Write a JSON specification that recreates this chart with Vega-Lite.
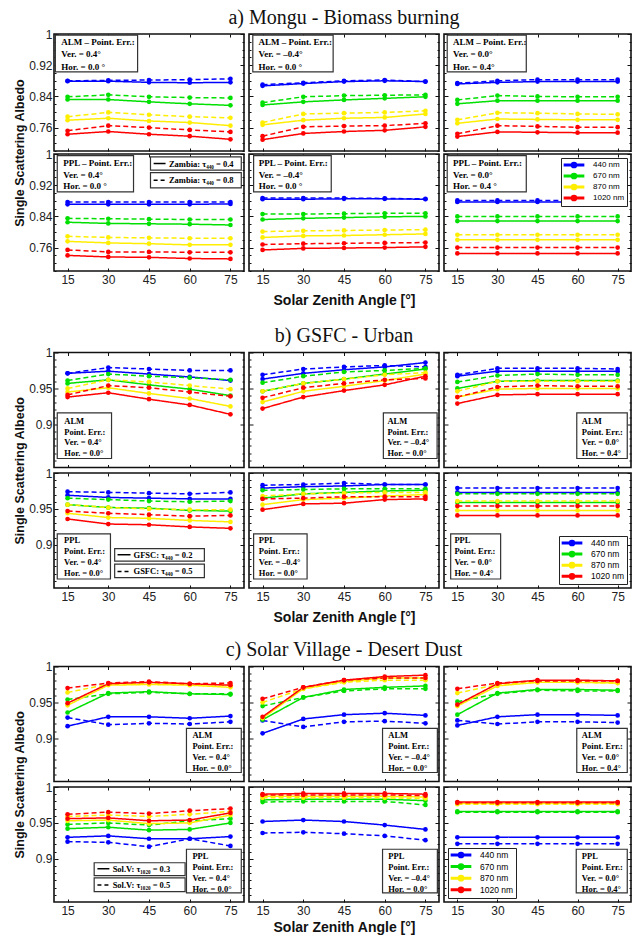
{
"$schema":"https://vega.github.io/schema/vega-lite/v6.json",
"background":"white",
"padding":{"left":12,"top":6,"right":0,"bottom":0},
"config":{
 "view":{"stroke":"#111","strokeWidth":1.6},
 "axis":{"domain":false,"grid":false,"tickColor":"#111","tickWidth":1,"tickSize":-3,"labelFont":"Liberation Sans","labelFontSize":12,"labelColor":"#222","labelPadding":6,"titleFont":"Liberation Sans","titleFontWeight":"bold","titleColor":"#111"},
 "title":{"font":"Liberation Serif","fontSize":20,"fontWeight":"normal","color":"#111","offset":6},
 "line":{"strokeWidth":1.5},
 "point":{"filled":true,"size":22,"opacity":1}
},
"datasets":{"ssa":[
{"panel":"aAL","wl":"440 nm","tau":"low","sza":15,"ssa":0.879},{"panel":"aAL","wl":"440 nm","tau":"low","sza":30,"ssa":0.879},{"panel":"aAL","wl":"440 nm","tau":"low","sza":45,"ssa":0.876},{"panel":"aAL","wl":"440 nm","tau":"low","sza":60,"ssa":0.875},{"panel":"aAL","wl":"440 nm","tau":"low","sza":75,"ssa":0.876},
{"panel":"aAL","wl":"440 nm","tau":"high","sza":15,"ssa":0.880},{"panel":"aAL","wl":"440 nm","tau":"high","sza":30,"ssa":0.881},{"panel":"aAL","wl":"440 nm","tau":"high","sza":45,"ssa":0.882},{"panel":"aAL","wl":"440 nm","tau":"high","sza":60,"ssa":0.883},{"panel":"aAL","wl":"440 nm","tau":"high","sza":75,"ssa":0.885},
{"panel":"aAL","wl":"670 nm","tau":"low","sza":15,"ssa":0.832},{"panel":"aAL","wl":"670 nm","tau":"low","sza":30,"ssa":0.832},{"panel":"aAL","wl":"670 nm","tau":"low","sza":45,"ssa":0.826},{"panel":"aAL","wl":"670 nm","tau":"low","sza":60,"ssa":0.821},{"panel":"aAL","wl":"670 nm","tau":"low","sza":75,"ssa":0.817},
{"panel":"aAL","wl":"670 nm","tau":"high","sza":15,"ssa":0.839},{"panel":"aAL","wl":"670 nm","tau":"high","sza":30,"ssa":0.844},{"panel":"aAL","wl":"670 nm","tau":"high","sza":45,"ssa":0.839},{"panel":"aAL","wl":"670 nm","tau":"high","sza":60,"ssa":0.837},{"panel":"aAL","wl":"670 nm","tau":"high","sza":75,"ssa":0.836},
{"panel":"aAL","wl":"870 nm","tau":"low","sza":15,"ssa":0.779},{"panel":"aAL","wl":"870 nm","tau":"low","sza":30,"ssa":0.784},{"panel":"aAL","wl":"870 nm","tau":"low","sza":45,"ssa":0.777},{"panel":"aAL","wl":"870 nm","tau":"low","sza":60,"ssa":0.773},{"panel":"aAL","wl":"870 nm","tau":"low","sza":75,"ssa":0.765},
{"panel":"aAL","wl":"870 nm","tau":"high","sza":15,"ssa":0.788},{"panel":"aAL","wl":"870 nm","tau":"high","sza":30,"ssa":0.799},{"panel":"aAL","wl":"870 nm","tau":"high","sza":45,"ssa":0.793},{"panel":"aAL","wl":"870 nm","tau":"high","sza":60,"ssa":0.788},{"panel":"aAL","wl":"870 nm","tau":"high","sza":75,"ssa":0.785},
{"panel":"aAL","wl":"1020 nm","tau":"low","sza":15,"ssa":0.743},{"panel":"aAL","wl":"1020 nm","tau":"low","sza":30,"ssa":0.750},{"panel":"aAL","wl":"1020 nm","tau":"low","sza":45,"ssa":0.743},{"panel":"aAL","wl":"1020 nm","tau":"low","sza":60,"ssa":0.738},{"panel":"aAL","wl":"1020 nm","tau":"low","sza":75,"ssa":0.730},
{"panel":"aAL","wl":"1020 nm","tau":"high","sza":15,"ssa":0.752},{"panel":"aAL","wl":"1020 nm","tau":"high","sza":30,"ssa":0.765},{"panel":"aAL","wl":"1020 nm","tau":"high","sza":45,"ssa":0.760},{"panel":"aAL","wl":"1020 nm","tau":"high","sza":60,"ssa":0.754},{"panel":"aAL","wl":"1020 nm","tau":"high","sza":75,"ssa":0.749},

{"panel":"aAM","wl":"440 nm","tau":"low","sza":15,"ssa":0.867},{"panel":"aAM","wl":"440 nm","tau":"low","sza":30,"ssa":0.873},{"panel":"aAM","wl":"440 nm","tau":"low","sza":45,"ssa":0.878},{"panel":"aAM","wl":"440 nm","tau":"low","sza":60,"ssa":0.880},{"panel":"aAM","wl":"440 nm","tau":"low","sza":75,"ssa":0.878},
{"panel":"aAM","wl":"440 nm","tau":"high","sza":15,"ssa":0.870},{"panel":"aAM","wl":"440 nm","tau":"high","sza":30,"ssa":0.875},{"panel":"aAM","wl":"440 nm","tau":"high","sza":45,"ssa":0.880},{"panel":"aAM","wl":"440 nm","tau":"high","sza":60,"ssa":0.882},{"panel":"aAM","wl":"440 nm","tau":"high","sza":75,"ssa":0.878},
{"panel":"aAM","wl":"670 nm","tau":"low","sza":15,"ssa":0.818},{"panel":"aAM","wl":"670 nm","tau":"low","sza":30,"ssa":0.826},{"panel":"aAM","wl":"670 nm","tau":"low","sza":45,"ssa":0.831},{"panel":"aAM","wl":"670 nm","tau":"low","sza":60,"ssa":0.835},{"panel":"aAM","wl":"670 nm","tau":"low","sza":75,"ssa":0.839},
{"panel":"aAM","wl":"670 nm","tau":"high","sza":15,"ssa":0.824},{"panel":"aAM","wl":"670 nm","tau":"high","sza":30,"ssa":0.839},{"panel":"aAM","wl":"670 nm","tau":"high","sza":45,"ssa":0.842},{"panel":"aAM","wl":"670 nm","tau":"high","sza":60,"ssa":0.843},{"panel":"aAM","wl":"670 nm","tau":"high","sza":75,"ssa":0.844},
{"panel":"aAM","wl":"870 nm","tau":"low","sza":15,"ssa":0.767},{"panel":"aAM","wl":"870 nm","tau":"low","sza":30,"ssa":0.779},{"panel":"aAM","wl":"870 nm","tau":"low","sza":45,"ssa":0.784},{"panel":"aAM","wl":"870 nm","tau":"low","sza":60,"ssa":0.786},{"panel":"aAM","wl":"870 nm","tau":"low","sza":75,"ssa":0.795},
{"panel":"aAM","wl":"870 nm","tau":"high","sza":15,"ssa":0.773},{"panel":"aAM","wl":"870 nm","tau":"high","sza":30,"ssa":0.795},{"panel":"aAM","wl":"870 nm","tau":"high","sza":45,"ssa":0.797},{"panel":"aAM","wl":"870 nm","tau":"high","sza":60,"ssa":0.799},{"panel":"aAM","wl":"870 nm","tau":"high","sza":75,"ssa":0.803},
{"panel":"aAM","wl":"1020 nm","tau":"low","sza":15,"ssa":0.729},{"panel":"aAM","wl":"1020 nm","tau":"low","sza":30,"ssa":0.745},{"panel":"aAM","wl":"1020 nm","tau":"low","sza":45,"ssa":0.750},{"panel":"aAM","wl":"1020 nm","tau":"low","sza":60,"ssa":0.753},{"panel":"aAM","wl":"1020 nm","tau":"low","sza":75,"ssa":0.762},
{"panel":"aAM","wl":"1020 nm","tau":"high","sza":15,"ssa":0.738},{"panel":"aAM","wl":"1020 nm","tau":"high","sza":30,"ssa":0.762},{"panel":"aAM","wl":"1020 nm","tau":"high","sza":45,"ssa":0.764},{"panel":"aAM","wl":"1020 nm","tau":"high","sza":60,"ssa":0.765},{"panel":"aAM","wl":"1020 nm","tau":"high","sza":75,"ssa":0.771},

{"panel":"aAR","wl":"440 nm","tau":"low","sza":15,"ssa":0.872},{"panel":"aAR","wl":"440 nm","tau":"low","sza":30,"ssa":0.876},{"panel":"aAR","wl":"440 nm","tau":"low","sza":45,"ssa":0.878},{"panel":"aAR","wl":"440 nm","tau":"low","sza":60,"ssa":0.878},{"panel":"aAR","wl":"440 nm","tau":"low","sza":75,"ssa":0.878},
{"panel":"aAR","wl":"440 nm","tau":"high","sza":15,"ssa":0.874},{"panel":"aAR","wl":"440 nm","tau":"high","sza":30,"ssa":0.880},{"panel":"aAR","wl":"440 nm","tau":"high","sza":45,"ssa":0.883},{"panel":"aAR","wl":"440 nm","tau":"high","sza":60,"ssa":0.883},{"panel":"aAR","wl":"440 nm","tau":"high","sza":75,"ssa":0.883},
{"panel":"aAR","wl":"670 nm","tau":"low","sza":15,"ssa":0.821},{"panel":"aAR","wl":"670 nm","tau":"low","sza":30,"ssa":0.829},{"panel":"aAR","wl":"670 nm","tau":"low","sza":45,"ssa":0.829},{"panel":"aAR","wl":"670 nm","tau":"low","sza":60,"ssa":0.829},{"panel":"aAR","wl":"670 nm","tau":"low","sza":75,"ssa":0.829},
{"panel":"aAR","wl":"670 nm","tau":"high","sza":15,"ssa":0.831},{"panel":"aAR","wl":"670 nm","tau":"high","sza":30,"ssa":0.842},{"panel":"aAR","wl":"670 nm","tau":"high","sza":45,"ssa":0.840},{"panel":"aAR","wl":"670 nm","tau":"high","sza":60,"ssa":0.839},{"panel":"aAR","wl":"670 nm","tau":"high","sza":75,"ssa":0.839},
{"panel":"aAR","wl":"870 nm","tau":"low","sza":15,"ssa":0.771},{"panel":"aAR","wl":"870 nm","tau":"low","sza":30,"ssa":0.782},{"panel":"aAR","wl":"870 nm","tau":"low","sza":45,"ssa":0.781},{"panel":"aAR","wl":"870 nm","tau":"low","sza":60,"ssa":0.780},{"panel":"aAR","wl":"870 nm","tau":"low","sza":75,"ssa":0.780},
{"panel":"aAR","wl":"870 nm","tau":"high","sza":15,"ssa":0.780},{"panel":"aAR","wl":"870 nm","tau":"high","sza":30,"ssa":0.798},{"panel":"aAR","wl":"870 nm","tau":"high","sza":45,"ssa":0.797},{"panel":"aAR","wl":"870 nm","tau":"high","sza":60,"ssa":0.795},{"panel":"aAR","wl":"870 nm","tau":"high","sza":75,"ssa":0.794},
{"panel":"aAR","wl":"1020 nm","tau":"low","sza":15,"ssa":0.737},{"panel":"aAR","wl":"1020 nm","tau":"low","sza":30,"ssa":0.749},{"panel":"aAR","wl":"1020 nm","tau":"low","sza":45,"ssa":0.748},{"panel":"aAR","wl":"1020 nm","tau":"low","sza":60,"ssa":0.747},{"panel":"aAR","wl":"1020 nm","tau":"low","sza":75,"ssa":0.747},
{"panel":"aAR","wl":"1020 nm","tau":"high","sza":15,"ssa":0.744},{"panel":"aAR","wl":"1020 nm","tau":"high","sza":30,"ssa":0.765},{"panel":"aAR","wl":"1020 nm","tau":"high","sza":45,"ssa":0.763},{"panel":"aAR","wl":"1020 nm","tau":"high","sza":60,"ssa":0.761},{"panel":"aAR","wl":"1020 nm","tau":"high","sza":75,"ssa":0.761},

{"panel":"aPL","wl":"440 nm","tau":"low","sza":15,"ssa":0.871},{"panel":"aPL","wl":"440 nm","tau":"low","sza":30,"ssa":0.871},{"panel":"aPL","wl":"440 nm","tau":"low","sza":45,"ssa":0.871},{"panel":"aPL","wl":"440 nm","tau":"low","sza":60,"ssa":0.871},{"panel":"aPL","wl":"440 nm","tau":"low","sza":75,"ssa":0.872},
{"panel":"aPL","wl":"440 nm","tau":"high","sza":15,"ssa":0.877},{"panel":"aPL","wl":"440 nm","tau":"high","sza":30,"ssa":0.877},{"panel":"aPL","wl":"440 nm","tau":"high","sza":45,"ssa":0.877},{"panel":"aPL","wl":"440 nm","tau":"high","sza":60,"ssa":0.877},{"panel":"aPL","wl":"440 nm","tau":"high","sza":75,"ssa":0.877},
{"panel":"aPL","wl":"670 nm","tau":"low","sza":15,"ssa":0.825},{"panel":"aPL","wl":"670 nm","tau":"low","sza":30,"ssa":0.822},{"panel":"aPL","wl":"670 nm","tau":"low","sza":45,"ssa":0.821},{"panel":"aPL","wl":"670 nm","tau":"low","sza":60,"ssa":0.820},{"panel":"aPL","wl":"670 nm","tau":"low","sza":75,"ssa":0.818},
{"panel":"aPL","wl":"670 nm","tau":"high","sza":15,"ssa":0.835},{"panel":"aPL","wl":"670 nm","tau":"high","sza":30,"ssa":0.834},{"panel":"aPL","wl":"670 nm","tau":"high","sza":45,"ssa":0.833},{"panel":"aPL","wl":"670 nm","tau":"high","sza":60,"ssa":0.832},{"panel":"aPL","wl":"670 nm","tau":"high","sza":75,"ssa":0.832},
{"panel":"aPL","wl":"870 nm","tau":"low","sza":15,"ssa":0.776},{"panel":"aPL","wl":"870 nm","tau":"low","sza":30,"ssa":0.772},{"panel":"aPL","wl":"870 nm","tau":"low","sza":45,"ssa":0.770},{"panel":"aPL","wl":"870 nm","tau":"low","sza":60,"ssa":0.767},{"panel":"aPL","wl":"870 nm","tau":"low","sza":75,"ssa":0.767},
{"panel":"aPL","wl":"870 nm","tau":"high","sza":15,"ssa":0.789},{"panel":"aPL","wl":"870 nm","tau":"high","sza":30,"ssa":0.786},{"panel":"aPL","wl":"870 nm","tau":"high","sza":45,"ssa":0.785},{"panel":"aPL","wl":"870 nm","tau":"high","sza":60,"ssa":0.784},{"panel":"aPL","wl":"870 nm","tau":"high","sza":75,"ssa":0.784},
{"panel":"aPL","wl":"1020 nm","tau":"low","sza":15,"ssa":0.740},{"panel":"aPL","wl":"1020 nm","tau":"low","sza":30,"ssa":0.736},{"panel":"aPL","wl":"1020 nm","tau":"low","sza":45,"ssa":0.735},{"panel":"aPL","wl":"1020 nm","tau":"low","sza":60,"ssa":0.732},{"panel":"aPL","wl":"1020 nm","tau":"low","sza":75,"ssa":0.731},
{"panel":"aPL","wl":"1020 nm","tau":"high","sza":15,"ssa":0.754},{"panel":"aPL","wl":"1020 nm","tau":"high","sza":30,"ssa":0.749},{"panel":"aPL","wl":"1020 nm","tau":"high","sza":45,"ssa":0.749},{"panel":"aPL","wl":"1020 nm","tau":"high","sza":60,"ssa":0.748},{"panel":"aPL","wl":"1020 nm","tau":"high","sza":75,"ssa":0.748},

{"panel":"aPM","wl":"440 nm","tau":"low","sza":15,"ssa":0.884},{"panel":"aPM","wl":"440 nm","tau":"low","sza":30,"ssa":0.884},{"panel":"aPM","wl":"440 nm","tau":"low","sza":45,"ssa":0.885},{"panel":"aPM","wl":"440 nm","tau":"low","sza":60,"ssa":0.885},{"panel":"aPM","wl":"440 nm","tau":"low","sza":75,"ssa":0.884},
{"panel":"aPM","wl":"440 nm","tau":"high","sza":15,"ssa":0.887},{"panel":"aPM","wl":"440 nm","tau":"high","sza":30,"ssa":0.887},{"panel":"aPM","wl":"440 nm","tau":"high","sza":45,"ssa":0.887},{"panel":"aPM","wl":"440 nm","tau":"high","sza":60,"ssa":0.886},{"panel":"aPM","wl":"440 nm","tau":"high","sza":75,"ssa":0.885},
{"panel":"aPM","wl":"670 nm","tau":"low","sza":15,"ssa":0.832},{"panel":"aPM","wl":"670 nm","tau":"low","sza":30,"ssa":0.835},{"panel":"aPM","wl":"670 nm","tau":"low","sza":45,"ssa":0.837},{"panel":"aPM","wl":"670 nm","tau":"low","sza":60,"ssa":0.839},{"panel":"aPM","wl":"670 nm","tau":"low","sza":75,"ssa":0.840},
{"panel":"aPM","wl":"670 nm","tau":"high","sza":15,"ssa":0.846},{"panel":"aPM","wl":"670 nm","tau":"high","sza":30,"ssa":0.846},{"panel":"aPM","wl":"670 nm","tau":"high","sza":45,"ssa":0.847},{"panel":"aPM","wl":"670 nm","tau":"high","sza":60,"ssa":0.848},{"panel":"aPM","wl":"670 nm","tau":"high","sza":75,"ssa":0.848},
{"panel":"aPM","wl":"870 nm","tau":"low","sza":15,"ssa":0.786},{"panel":"aPM","wl":"870 nm","tau":"low","sza":30,"ssa":0.790},{"panel":"aPM","wl":"870 nm","tau":"low","sza":45,"ssa":0.791},{"panel":"aPM","wl":"870 nm","tau":"low","sza":60,"ssa":0.793},{"panel":"aPM","wl":"870 nm","tau":"low","sza":75,"ssa":0.795},
{"panel":"aPM","wl":"870 nm","tau":"high","sza":15,"ssa":0.801},{"panel":"aPM","wl":"870 nm","tau":"high","sza":30,"ssa":0.803},{"panel":"aPM","wl":"870 nm","tau":"high","sza":45,"ssa":0.804},{"panel":"aPM","wl":"870 nm","tau":"high","sza":60,"ssa":0.805},{"panel":"aPM","wl":"870 nm","tau":"high","sza":75,"ssa":0.806},
{"panel":"aPM","wl":"1020 nm","tau":"low","sza":15,"ssa":0.754},{"panel":"aPM","wl":"1020 nm","tau":"low","sza":30,"ssa":0.758},{"panel":"aPM","wl":"1020 nm","tau":"low","sza":45,"ssa":0.759},{"panel":"aPM","wl":"1020 nm","tau":"low","sza":60,"ssa":0.760},{"panel":"aPM","wl":"1020 nm","tau":"low","sza":75,"ssa":0.762},
{"panel":"aPM","wl":"1020 nm","tau":"high","sza":15,"ssa":0.768},{"panel":"aPM","wl":"1020 nm","tau":"high","sza":30,"ssa":0.770},{"panel":"aPM","wl":"1020 nm","tau":"high","sza":45,"ssa":0.771},{"panel":"aPM","wl":"1020 nm","tau":"high","sza":60,"ssa":0.772},{"panel":"aPM","wl":"1020 nm","tau":"high","sza":75,"ssa":0.773},

{"panel":"aPR","wl":"440 nm","tau":"low","sza":15,"ssa":0.877},{"panel":"aPR","wl":"440 nm","tau":"low","sza":30,"ssa":0.877},{"panel":"aPR","wl":"440 nm","tau":"low","sza":45,"ssa":0.877},{"panel":"aPR","wl":"440 nm","tau":"low","sza":60,"ssa":0.877},{"panel":"aPR","wl":"440 nm","tau":"low","sza":75,"ssa":0.877},
{"panel":"aPR","wl":"440 nm","tau":"high","sza":15,"ssa":0.881},{"panel":"aPR","wl":"440 nm","tau":"high","sza":30,"ssa":0.881},{"panel":"aPR","wl":"440 nm","tau":"high","sza":45,"ssa":0.881},{"panel":"aPR","wl":"440 nm","tau":"high","sza":60,"ssa":0.881},{"panel":"aPR","wl":"440 nm","tau":"high","sza":75,"ssa":0.881},
{"panel":"aPR","wl":"670 nm","tau":"low","sza":15,"ssa":0.828},{"panel":"aPR","wl":"670 nm","tau":"low","sza":30,"ssa":0.828},{"panel":"aPR","wl":"670 nm","tau":"low","sza":45,"ssa":0.828},{"panel":"aPR","wl":"670 nm","tau":"low","sza":60,"ssa":0.828},{"panel":"aPR","wl":"670 nm","tau":"low","sza":75,"ssa":0.828},
{"panel":"aPR","wl":"670 nm","tau":"high","sza":15,"ssa":0.840},{"panel":"aPR","wl":"670 nm","tau":"high","sza":30,"ssa":0.840},{"panel":"aPR","wl":"670 nm","tau":"high","sza":45,"ssa":0.840},{"panel":"aPR","wl":"670 nm","tau":"high","sza":60,"ssa":0.840},{"panel":"aPR","wl":"670 nm","tau":"high","sza":75,"ssa":0.840},
{"panel":"aPR","wl":"870 nm","tau":"low","sza":15,"ssa":0.780},{"panel":"aPR","wl":"870 nm","tau":"low","sza":30,"ssa":0.780},{"panel":"aPR","wl":"870 nm","tau":"low","sza":45,"ssa":0.780},{"panel":"aPR","wl":"870 nm","tau":"low","sza":60,"ssa":0.780},{"panel":"aPR","wl":"870 nm","tau":"low","sza":75,"ssa":0.780},
{"panel":"aPR","wl":"870 nm","tau":"high","sza":15,"ssa":0.793},{"panel":"aPR","wl":"870 nm","tau":"high","sza":30,"ssa":0.793},{"panel":"aPR","wl":"870 nm","tau":"high","sza":45,"ssa":0.793},{"panel":"aPR","wl":"870 nm","tau":"high","sza":60,"ssa":0.793},{"panel":"aPR","wl":"870 nm","tau":"high","sza":75,"ssa":0.793},
{"panel":"aPR","wl":"1020 nm","tau":"low","sza":15,"ssa":0.745},{"panel":"aPR","wl":"1020 nm","tau":"low","sza":30,"ssa":0.745},{"panel":"aPR","wl":"1020 nm","tau":"low","sza":45,"ssa":0.745},{"panel":"aPR","wl":"1020 nm","tau":"low","sza":60,"ssa":0.745},{"panel":"aPR","wl":"1020 nm","tau":"low","sza":75,"ssa":0.745},
{"panel":"aPR","wl":"1020 nm","tau":"high","sza":15,"ssa":0.760},{"panel":"aPR","wl":"1020 nm","tau":"high","sza":30,"ssa":0.760},{"panel":"aPR","wl":"1020 nm","tau":"high","sza":45,"ssa":0.760},{"panel":"aPR","wl":"1020 nm","tau":"high","sza":60,"ssa":0.760},{"panel":"aPR","wl":"1020 nm","tau":"high","sza":75,"ssa":0.760},

{"panel":"bAL","wl":"440 nm","tau":"low","sza":15,"ssa":0.971},{"panel":"bAL","wl":"440 nm","tau":"low","sza":30,"ssa":0.974},{"panel":"bAL","wl":"440 nm","tau":"low","sza":45,"ssa":0.970},{"panel":"bAL","wl":"440 nm","tau":"low","sza":60,"ssa":0.966},{"panel":"bAL","wl":"440 nm","tau":"low","sza":75,"ssa":0.961},
{"panel":"bAL","wl":"440 nm","tau":"high","sza":15,"ssa":0.971},{"panel":"bAL","wl":"440 nm","tau":"high","sza":30,"ssa":0.979},{"panel":"bAL","wl":"440 nm","tau":"high","sza":45,"ssa":0.977},{"panel":"bAL","wl":"440 nm","tau":"high","sza":60,"ssa":0.975},{"panel":"bAL","wl":"440 nm","tau":"high","sza":75,"ssa":0.975},
{"panel":"bAL","wl":"670 nm","tau":"low","sza":15,"ssa":0.957},{"panel":"bAL","wl":"670 nm","tau":"low","sza":30,"ssa":0.962},{"panel":"bAL","wl":"670 nm","tau":"low","sza":45,"ssa":0.955},{"panel":"bAL","wl":"670 nm","tau":"low","sza":60,"ssa":0.949},{"panel":"bAL","wl":"670 nm","tau":"low","sza":75,"ssa":0.940},
{"panel":"bAL","wl":"670 nm","tau":"high","sza":15,"ssa":0.961},{"panel":"bAL","wl":"670 nm","tau":"high","sza":30,"ssa":0.970},{"panel":"bAL","wl":"670 nm","tau":"high","sza":45,"ssa":0.967},{"panel":"bAL","wl":"670 nm","tau":"high","sza":60,"ssa":0.965},{"panel":"bAL","wl":"670 nm","tau":"high","sza":75,"ssa":0.962},
{"panel":"bAL","wl":"870 nm","tau":"low","sza":15,"ssa":0.945},{"panel":"bAL","wl":"870 nm","tau":"low","sza":30,"ssa":0.951},{"panel":"bAL","wl":"870 nm","tau":"low","sza":45,"ssa":0.943},{"panel":"bAL","wl":"870 nm","tau":"low","sza":60,"ssa":0.936},{"panel":"bAL","wl":"870 nm","tau":"low","sza":75,"ssa":0.925},
{"panel":"bAL","wl":"870 nm","tau":"high","sza":15,"ssa":0.950},{"panel":"bAL","wl":"870 nm","tau":"high","sza":30,"ssa":0.962},{"panel":"bAL","wl":"870 nm","tau":"high","sza":45,"ssa":0.959},{"panel":"bAL","wl":"870 nm","tau":"high","sza":60,"ssa":0.954},{"panel":"bAL","wl":"870 nm","tau":"high","sza":75,"ssa":0.949},
{"panel":"bAL","wl":"1020 nm","tau":"low","sza":15,"ssa":0.938},{"panel":"bAL","wl":"1020 nm","tau":"low","sza":30,"ssa":0.944},{"panel":"bAL","wl":"1020 nm","tau":"low","sza":45,"ssa":0.935},{"panel":"bAL","wl":"1020 nm","tau":"low","sza":60,"ssa":0.927},{"panel":"bAL","wl":"1020 nm","tau":"low","sza":75,"ssa":0.914},
{"panel":"bAL","wl":"1020 nm","tau":"high","sza":15,"ssa":0.941},{"panel":"bAL","wl":"1020 nm","tau":"high","sza":30,"ssa":0.954},{"panel":"bAL","wl":"1020 nm","tau":"high","sza":45,"ssa":0.951},{"panel":"bAL","wl":"1020 nm","tau":"high","sza":60,"ssa":0.945},{"panel":"bAL","wl":"1020 nm","tau":"high","sza":75,"ssa":0.939},

{"panel":"bAM","wl":"440 nm","tau":"low","sza":15,"ssa":0.963},{"panel":"bAM","wl":"440 nm","tau":"low","sza":30,"ssa":0.971},{"panel":"bAM","wl":"440 nm","tau":"low","sza":45,"ssa":0.976},{"panel":"bAM","wl":"440 nm","tau":"low","sza":60,"ssa":0.980},{"panel":"bAM","wl":"440 nm","tau":"low","sza":75,"ssa":0.986},
{"panel":"bAM","wl":"440 nm","tau":"high","sza":15,"ssa":0.969},{"panel":"bAM","wl":"440 nm","tau":"high","sza":30,"ssa":0.977},{"panel":"bAM","wl":"440 nm","tau":"high","sza":45,"ssa":0.980},{"panel":"bAM","wl":"440 nm","tau":"high","sza":60,"ssa":0.982},{"panel":"bAM","wl":"440 nm","tau":"high","sza":75,"ssa":0.980},
{"panel":"bAM","wl":"670 nm","tau":"low","sza":15,"ssa":0.946},{"panel":"bAM","wl":"670 nm","tau":"low","sza":30,"ssa":0.957},{"panel":"bAM","wl":"670 nm","tau":"low","sza":45,"ssa":0.963},{"panel":"bAM","wl":"670 nm","tau":"low","sza":60,"ssa":0.970},{"panel":"bAM","wl":"670 nm","tau":"low","sza":75,"ssa":0.977},
{"panel":"bAM","wl":"670 nm","tau":"high","sza":15,"ssa":0.958},{"panel":"bAM","wl":"670 nm","tau":"high","sza":30,"ssa":0.967},{"panel":"bAM","wl":"670 nm","tau":"high","sza":45,"ssa":0.973},{"panel":"bAM","wl":"670 nm","tau":"high","sza":60,"ssa":0.975},{"panel":"bAM","wl":"670 nm","tau":"high","sza":75,"ssa":0.978},
{"panel":"bAM","wl":"870 nm","tau":"low","sza":15,"ssa":0.931},{"panel":"bAM","wl":"870 nm","tau":"low","sza":30,"ssa":0.946},{"panel":"bAM","wl":"870 nm","tau":"low","sza":45,"ssa":0.953},{"panel":"bAM","wl":"870 nm","tau":"low","sza":60,"ssa":0.961},{"panel":"bAM","wl":"870 nm","tau":"low","sza":75,"ssa":0.970},
{"panel":"bAM","wl":"870 nm","tau":"high","sza":15,"ssa":0.946},{"panel":"bAM","wl":"870 nm","tau":"high","sza":30,"ssa":0.957},{"panel":"bAM","wl":"870 nm","tau":"high","sza":45,"ssa":0.963},{"panel":"bAM","wl":"870 nm","tau":"high","sza":60,"ssa":0.969},{"panel":"bAM","wl":"870 nm","tau":"high","sza":75,"ssa":0.972},
{"panel":"bAM","wl":"1020 nm","tau":"low","sza":15,"ssa":0.922},{"panel":"bAM","wl":"1020 nm","tau":"low","sza":30,"ssa":0.938},{"panel":"bAM","wl":"1020 nm","tau":"low","sza":45,"ssa":0.947},{"panel":"bAM","wl":"1020 nm","tau":"low","sza":60,"ssa":0.955},{"panel":"bAM","wl":"1020 nm","tau":"low","sza":75,"ssa":0.967},
{"panel":"bAM","wl":"1020 nm","tau":"high","sza":15,"ssa":0.937},{"panel":"bAM","wl":"1020 nm","tau":"high","sza":30,"ssa":0.951},{"panel":"bAM","wl":"1020 nm","tau":"high","sza":45,"ssa":0.957},{"panel":"bAM","wl":"1020 nm","tau":"high","sza":60,"ssa":0.962},{"panel":"bAM","wl":"1020 nm","tau":"high","sza":75,"ssa":0.964},

{"panel":"bAR","wl":"440 nm","tau":"low","sza":15,"ssa":0.967},{"panel":"bAR","wl":"440 nm","tau":"low","sza":30,"ssa":0.974},{"panel":"bAR","wl":"440 nm","tau":"low","sza":45,"ssa":0.974},{"panel":"bAR","wl":"440 nm","tau":"low","sza":60,"ssa":0.974},{"panel":"bAR","wl":"440 nm","tau":"low","sza":75,"ssa":0.974},
{"panel":"bAR","wl":"440 nm","tau":"high","sza":15,"ssa":0.969},{"panel":"bAR","wl":"440 nm","tau":"high","sza":30,"ssa":0.978},{"panel":"bAR","wl":"440 nm","tau":"high","sza":45,"ssa":0.978},{"panel":"bAR","wl":"440 nm","tau":"high","sza":60,"ssa":0.978},{"panel":"bAR","wl":"440 nm","tau":"high","sza":75,"ssa":0.977},
{"panel":"bAR","wl":"670 nm","tau":"low","sza":15,"ssa":0.950},{"panel":"bAR","wl":"670 nm","tau":"low","sza":30,"ssa":0.960},{"panel":"bAR","wl":"670 nm","tau":"low","sza":45,"ssa":0.961},{"panel":"bAR","wl":"670 nm","tau":"low","sza":60,"ssa":0.961},{"panel":"bAR","wl":"670 nm","tau":"low","sza":75,"ssa":0.961},
{"panel":"bAR","wl":"670 nm","tau":"high","sza":15,"ssa":0.959},{"panel":"bAR","wl":"670 nm","tau":"high","sza":30,"ssa":0.968},{"panel":"bAR","wl":"670 nm","tau":"high","sza":45,"ssa":0.970},{"panel":"bAR","wl":"670 nm","tau":"high","sza":60,"ssa":0.969},{"panel":"bAR","wl":"670 nm","tau":"high","sza":75,"ssa":0.969},
{"panel":"bAR","wl":"870 nm","tau":"low","sza":15,"ssa":0.938},{"panel":"bAR","wl":"870 nm","tau":"low","sza":30,"ssa":0.949},{"panel":"bAR","wl":"870 nm","tau":"low","sza":45,"ssa":0.950},{"panel":"bAR","wl":"870 nm","tau":"low","sza":60,"ssa":0.950},{"panel":"bAR","wl":"870 nm","tau":"low","sza":75,"ssa":0.950},
{"panel":"bAR","wl":"870 nm","tau":"high","sza":15,"ssa":0.946},{"panel":"bAR","wl":"870 nm","tau":"high","sza":30,"ssa":0.960},{"panel":"bAR","wl":"870 nm","tau":"high","sza":45,"ssa":0.960},{"panel":"bAR","wl":"870 nm","tau":"high","sza":60,"ssa":0.960},{"panel":"bAR","wl":"870 nm","tau":"high","sza":75,"ssa":0.960},
{"panel":"bAR","wl":"1020 nm","tau":"low","sza":15,"ssa":0.929},{"panel":"bAR","wl":"1020 nm","tau":"low","sza":30,"ssa":0.941},{"panel":"bAR","wl":"1020 nm","tau":"low","sza":45,"ssa":0.942},{"panel":"bAR","wl":"1020 nm","tau":"low","sza":60,"ssa":0.942},{"panel":"bAR","wl":"1020 nm","tau":"low","sza":75,"ssa":0.942},
{"panel":"bAR","wl":"1020 nm","tau":"high","sza":15,"ssa":0.938},{"panel":"bAR","wl":"1020 nm","tau":"high","sza":30,"ssa":0.952},{"panel":"bAR","wl":"1020 nm","tau":"high","sza":45,"ssa":0.954},{"panel":"bAR","wl":"1020 nm","tau":"high","sza":60,"ssa":0.953},{"panel":"bAR","wl":"1020 nm","tau":"high","sza":75,"ssa":0.953},

{"panel":"bPL","wl":"440 nm","tau":"low","sza":15,"ssa":0.969},{"panel":"bPL","wl":"440 nm","tau":"low","sza":30,"ssa":0.966},{"panel":"bPL","wl":"440 nm","tau":"low","sza":45,"ssa":0.965},{"panel":"bPL","wl":"440 nm","tau":"low","sza":60,"ssa":0.964},{"panel":"bPL","wl":"440 nm","tau":"low","sza":75,"ssa":0.964},
{"panel":"bPL","wl":"440 nm","tau":"high","sza":15,"ssa":0.974},{"panel":"bPL","wl":"440 nm","tau":"high","sza":30,"ssa":0.973},{"panel":"bPL","wl":"440 nm","tau":"high","sza":45,"ssa":0.972},{"panel":"bPL","wl":"440 nm","tau":"high","sza":60,"ssa":0.971},{"panel":"bPL","wl":"440 nm","tau":"high","sza":75,"ssa":0.973},
{"panel":"bPL","wl":"670 nm","tau":"low","sza":15,"ssa":0.956},{"panel":"bPL","wl":"670 nm","tau":"low","sza":30,"ssa":0.952},{"panel":"bPL","wl":"670 nm","tau":"low","sza":45,"ssa":0.951},{"panel":"bPL","wl":"670 nm","tau":"low","sza":60,"ssa":0.948},{"panel":"bPL","wl":"670 nm","tau":"low","sza":75,"ssa":0.947},
{"panel":"bPL","wl":"670 nm","tau":"high","sza":15,"ssa":0.965},{"panel":"bPL","wl":"670 nm","tau":"high","sza":30,"ssa":0.963},{"panel":"bPL","wl":"670 nm","tau":"high","sza":45,"ssa":0.961},{"panel":"bPL","wl":"670 nm","tau":"high","sza":60,"ssa":0.960},{"panel":"bPL","wl":"670 nm","tau":"high","sza":75,"ssa":0.961},
{"panel":"bPL","wl":"870 nm","tau":"low","sza":15,"ssa":0.944},{"panel":"bPL","wl":"870 nm","tau":"low","sza":30,"ssa":0.938},{"panel":"bPL","wl":"870 nm","tau":"low","sza":45,"ssa":0.937},{"panel":"bPL","wl":"870 nm","tau":"low","sza":60,"ssa":0.934},{"panel":"bPL","wl":"870 nm","tau":"low","sza":75,"ssa":0.932},
{"panel":"bPL","wl":"870 nm","tau":"high","sza":15,"ssa":0.956},{"panel":"bPL","wl":"870 nm","tau":"high","sza":30,"ssa":0.952},{"panel":"bPL","wl":"870 nm","tau":"high","sza":45,"ssa":0.950},{"panel":"bPL","wl":"870 nm","tau":"high","sza":60,"ssa":0.949},{"panel":"bPL","wl":"870 nm","tau":"high","sza":75,"ssa":0.949},
{"panel":"bPL","wl":"1020 nm","tau":"low","sza":15,"ssa":0.936},{"panel":"bPL","wl":"1020 nm","tau":"low","sza":30,"ssa":0.929},{"panel":"bPL","wl":"1020 nm","tau":"low","sza":45,"ssa":0.928},{"panel":"bPL","wl":"1020 nm","tau":"low","sza":60,"ssa":0.925},{"panel":"bPL","wl":"1020 nm","tau":"low","sza":75,"ssa":0.923},
{"panel":"bPL","wl":"1020 nm","tau":"high","sza":15,"ssa":0.947},{"panel":"bPL","wl":"1020 nm","tau":"high","sza":30,"ssa":0.944},{"panel":"bPL","wl":"1020 nm","tau":"high","sza":45,"ssa":0.942},{"panel":"bPL","wl":"1020 nm","tau":"high","sza":60,"ssa":0.940},{"panel":"bPL","wl":"1020 nm","tau":"high","sza":75,"ssa":0.941},

{"panel":"bPM","wl":"440 nm","tau":"low","sza":15,"ssa":0.979},{"panel":"bPM","wl":"440 nm","tau":"low","sza":30,"ssa":0.981},{"panel":"bPM","wl":"440 nm","tau":"low","sza":45,"ssa":0.982},{"panel":"bPM","wl":"440 nm","tau":"low","sza":60,"ssa":0.984},{"panel":"bPM","wl":"440 nm","tau":"low","sza":75,"ssa":0.984},
{"panel":"bPM","wl":"440 nm","tau":"high","sza":15,"ssa":0.983},{"panel":"bPM","wl":"440 nm","tau":"high","sza":30,"ssa":0.984},{"panel":"bPM","wl":"440 nm","tau":"high","sza":45,"ssa":0.986},{"panel":"bPM","wl":"440 nm","tau":"high","sza":60,"ssa":0.984},{"panel":"bPM","wl":"440 nm","tau":"high","sza":75,"ssa":0.984},
{"panel":"bPM","wl":"670 nm","tau":"low","sza":15,"ssa":0.965},{"panel":"bPM","wl":"670 nm","tau":"low","sza":30,"ssa":0.971},{"panel":"bPM","wl":"670 nm","tau":"low","sza":45,"ssa":0.973},{"panel":"bPM","wl":"670 nm","tau":"low","sza":60,"ssa":0.975},{"panel":"bPM","wl":"670 nm","tau":"low","sza":75,"ssa":0.976},
{"panel":"bPM","wl":"670 nm","tau":"high","sza":15,"ssa":0.976},{"panel":"bPM","wl":"670 nm","tau":"high","sza":30,"ssa":0.977},{"panel":"bPM","wl":"670 nm","tau":"high","sza":45,"ssa":0.978},{"panel":"bPM","wl":"670 nm","tau":"high","sza":60,"ssa":0.978},{"panel":"bPM","wl":"670 nm","tau":"high","sza":75,"ssa":0.978},
{"panel":"bPM","wl":"870 nm","tau":"low","sza":15,"ssa":0.956},{"panel":"bPM","wl":"870 nm","tau":"low","sza":30,"ssa":0.963},{"panel":"bPM","wl":"870 nm","tau":"low","sza":45,"ssa":0.965},{"panel":"bPM","wl":"870 nm","tau":"low","sza":60,"ssa":0.968},{"panel":"bPM","wl":"870 nm","tau":"low","sza":75,"ssa":0.970},
{"panel":"bPM","wl":"870 nm","tau":"high","sza":15,"ssa":0.968},{"panel":"bPM","wl":"870 nm","tau":"high","sza":30,"ssa":0.971},{"panel":"bPM","wl":"870 nm","tau":"high","sza":45,"ssa":0.972},{"panel":"bPM","wl":"870 nm","tau":"high","sza":60,"ssa":0.973},{"panel":"bPM","wl":"870 nm","tau":"high","sza":75,"ssa":0.973},
{"panel":"bPM","wl":"1020 nm","tau":"low","sza":15,"ssa":0.949},{"panel":"bPM","wl":"1020 nm","tau":"low","sza":30,"ssa":0.957},{"panel":"bPM","wl":"1020 nm","tau":"low","sza":45,"ssa":0.958},{"panel":"bPM","wl":"1020 nm","tau":"low","sza":60,"ssa":0.963},{"panel":"bPM","wl":"1020 nm","tau":"low","sza":75,"ssa":0.964},
{"panel":"bPM","wl":"1020 nm","tau":"high","sza":15,"ssa":0.964},{"panel":"bPM","wl":"1020 nm","tau":"high","sza":30,"ssa":0.965},{"panel":"bPM","wl":"1020 nm","tau":"high","sza":45,"ssa":0.967},{"panel":"bPM","wl":"1020 nm","tau":"high","sza":60,"ssa":0.967},{"panel":"bPM","wl":"1020 nm","tau":"high","sza":75,"ssa":0.967},

{"panel":"bPR","wl":"440 nm","tau":"low","sza":15,"ssa":0.973},{"panel":"bPR","wl":"440 nm","tau":"low","sza":30,"ssa":0.973},{"panel":"bPR","wl":"440 nm","tau":"low","sza":45,"ssa":0.973},{"panel":"bPR","wl":"440 nm","tau":"low","sza":60,"ssa":0.973},{"panel":"bPR","wl":"440 nm","tau":"low","sza":75,"ssa":0.973},
{"panel":"bPR","wl":"440 nm","tau":"high","sza":15,"ssa":0.979},{"panel":"bPR","wl":"440 nm","tau":"high","sza":30,"ssa":0.979},{"panel":"bPR","wl":"440 nm","tau":"high","sza":45,"ssa":0.979},{"panel":"bPR","wl":"440 nm","tau":"high","sza":60,"ssa":0.979},{"panel":"bPR","wl":"440 nm","tau":"high","sza":75,"ssa":0.979},
{"panel":"bPR","wl":"670 nm","tau":"low","sza":15,"ssa":0.959},{"panel":"bPR","wl":"670 nm","tau":"low","sza":30,"ssa":0.959},{"panel":"bPR","wl":"670 nm","tau":"low","sza":45,"ssa":0.959},{"panel":"bPR","wl":"670 nm","tau":"low","sza":60,"ssa":0.959},{"panel":"bPR","wl":"670 nm","tau":"low","sza":75,"ssa":0.959},
{"panel":"bPR","wl":"670 nm","tau":"high","sza":15,"ssa":0.971},{"panel":"bPR","wl":"670 nm","tau":"high","sza":30,"ssa":0.971},{"panel":"bPR","wl":"670 nm","tau":"high","sza":45,"ssa":0.971},{"panel":"bPR","wl":"670 nm","tau":"high","sza":60,"ssa":0.971},{"panel":"bPR","wl":"670 nm","tau":"high","sza":75,"ssa":0.971},
{"panel":"bPR","wl":"870 nm","tau":"low","sza":15,"ssa":0.948},{"panel":"bPR","wl":"870 nm","tau":"low","sza":30,"ssa":0.948},{"panel":"bPR","wl":"870 nm","tau":"low","sza":45,"ssa":0.948},{"panel":"bPR","wl":"870 nm","tau":"low","sza":60,"ssa":0.948},{"panel":"bPR","wl":"870 nm","tau":"low","sza":75,"ssa":0.948},
{"panel":"bPR","wl":"870 nm","tau":"high","sza":15,"ssa":0.961},{"panel":"bPR","wl":"870 nm","tau":"high","sza":30,"ssa":0.961},{"panel":"bPR","wl":"870 nm","tau":"high","sza":45,"ssa":0.961},{"panel":"bPR","wl":"870 nm","tau":"high","sza":60,"ssa":0.961},{"panel":"bPR","wl":"870 nm","tau":"high","sza":75,"ssa":0.961},
{"panel":"bPR","wl":"1020 nm","tau":"low","sza":15,"ssa":0.941},{"panel":"bPR","wl":"1020 nm","tau":"low","sza":30,"ssa":0.941},{"panel":"bPR","wl":"1020 nm","tau":"low","sza":45,"ssa":0.941},{"panel":"bPR","wl":"1020 nm","tau":"low","sza":60,"ssa":0.941},{"panel":"bPR","wl":"1020 nm","tau":"low","sza":75,"ssa":0.941},
{"panel":"bPR","wl":"1020 nm","tau":"high","sza":15,"ssa":0.954},{"panel":"bPR","wl":"1020 nm","tau":"high","sza":30,"ssa":0.954},{"panel":"bPR","wl":"1020 nm","tau":"high","sza":45,"ssa":0.954},{"panel":"bPR","wl":"1020 nm","tau":"high","sza":60,"ssa":0.954},{"panel":"bPR","wl":"1020 nm","tau":"high","sza":75,"ssa":0.954},

{"panel":"cAL","wl":"440 nm","tau":"low","sza":15,"ssa":0.917},{"panel":"cAL","wl":"440 nm","tau":"low","sza":30,"ssa":0.930},{"panel":"cAL","wl":"440 nm","tau":"low","sza":45,"ssa":0.930},{"panel":"cAL","wl":"440 nm","tau":"low","sza":60,"ssa":0.928},{"panel":"cAL","wl":"440 nm","tau":"low","sza":75,"ssa":0.931},
{"panel":"cAL","wl":"440 nm","tau":"high","sza":15,"ssa":0.929},{"panel":"cAL","wl":"440 nm","tau":"high","sza":30,"ssa":0.919},{"panel":"cAL","wl":"440 nm","tau":"high","sza":45,"ssa":0.921},{"panel":"cAL","wl":"440 nm","tau":"high","sza":60,"ssa":0.920},{"panel":"cAL","wl":"440 nm","tau":"high","sza":75,"ssa":0.923},
{"panel":"cAL","wl":"670 nm","tau":"low","sza":15,"ssa":0.936},{"panel":"cAL","wl":"670 nm","tau":"low","sza":30,"ssa":0.963},{"panel":"cAL","wl":"670 nm","tau":"low","sza":45,"ssa":0.965},{"panel":"cAL","wl":"670 nm","tau":"low","sza":60,"ssa":0.962},{"panel":"cAL","wl":"670 nm","tau":"low","sza":75,"ssa":0.961},
{"panel":"cAL","wl":"670 nm","tau":"high","sza":15,"ssa":0.954},{"panel":"cAL","wl":"670 nm","tau":"high","sza":30,"ssa":0.962},{"panel":"cAL","wl":"670 nm","tau":"high","sza":45,"ssa":0.964},{"panel":"cAL","wl":"670 nm","tau":"high","sza":60,"ssa":0.962},{"panel":"cAL","wl":"670 nm","tau":"high","sza":75,"ssa":0.962},
{"panel":"cAL","wl":"870 nm","tau":"low","sza":15,"ssa":0.946},{"panel":"cAL","wl":"870 nm","tau":"low","sza":30,"ssa":0.974},{"panel":"cAL","wl":"870 nm","tau":"low","sza":45,"ssa":0.975},{"panel":"cAL","wl":"870 nm","tau":"low","sza":60,"ssa":0.974},{"panel":"cAL","wl":"870 nm","tau":"low","sza":75,"ssa":0.971},
{"panel":"cAL","wl":"870 nm","tau":"high","sza":15,"ssa":0.964},{"panel":"cAL","wl":"870 nm","tau":"high","sza":30,"ssa":0.975},{"panel":"cAL","wl":"870 nm","tau":"high","sza":45,"ssa":0.977},{"panel":"cAL","wl":"870 nm","tau":"high","sza":60,"ssa":0.975},{"panel":"cAL","wl":"870 nm","tau":"high","sza":75,"ssa":0.974},
{"panel":"cAL","wl":"1020 nm","tau":"low","sza":15,"ssa":0.949},{"panel":"cAL","wl":"1020 nm","tau":"low","sza":30,"ssa":0.976},{"panel":"cAL","wl":"1020 nm","tau":"low","sza":45,"ssa":0.978},{"panel":"cAL","wl":"1020 nm","tau":"low","sza":60,"ssa":0.976},{"panel":"cAL","wl":"1020 nm","tau":"low","sza":75,"ssa":0.974},
{"panel":"cAL","wl":"1020 nm","tau":"high","sza":15,"ssa":0.970},{"panel":"cAL","wl":"1020 nm","tau":"high","sza":30,"ssa":0.977},{"panel":"cAL","wl":"1020 nm","tau":"high","sza":45,"ssa":0.979},{"panel":"cAL","wl":"1020 nm","tau":"high","sza":60,"ssa":0.976},{"panel":"cAL","wl":"1020 nm","tau":"high","sza":75,"ssa":0.977},

{"panel":"cAM","wl":"440 nm","tau":"low","sza":15,"ssa":0.907},{"panel":"cAM","wl":"440 nm","tau":"low","sza":30,"ssa":0.927},{"panel":"cAM","wl":"440 nm","tau":"low","sza":45,"ssa":0.933},{"panel":"cAM","wl":"440 nm","tau":"low","sza":60,"ssa":0.935},{"panel":"cAM","wl":"440 nm","tau":"low","sza":75,"ssa":0.932},
{"panel":"cAM","wl":"440 nm","tau":"high","sza":15,"ssa":0.925},{"panel":"cAM","wl":"440 nm","tau":"high","sza":30,"ssa":0.916},{"panel":"cAM","wl":"440 nm","tau":"high","sza":45,"ssa":0.923},{"panel":"cAM","wl":"440 nm","tau":"high","sza":60,"ssa":0.924},{"panel":"cAM","wl":"440 nm","tau":"high","sza":75,"ssa":0.921},
{"panel":"cAM","wl":"670 nm","tau":"low","sza":15,"ssa":0.926},{"panel":"cAM","wl":"670 nm","tau":"low","sza":30,"ssa":0.957},{"panel":"cAM","wl":"670 nm","tau":"low","sza":45,"ssa":0.968},{"panel":"cAM","wl":"670 nm","tau":"low","sza":60,"ssa":0.971},{"panel":"cAM","wl":"670 nm","tau":"low","sza":75,"ssa":0.973},
{"panel":"cAM","wl":"670 nm","tau":"high","sza":15,"ssa":0.945},{"panel":"cAM","wl":"670 nm","tau":"high","sza":30,"ssa":0.957},{"panel":"cAM","wl":"670 nm","tau":"high","sza":45,"ssa":0.966},{"panel":"cAM","wl":"670 nm","tau":"high","sza":60,"ssa":0.969},{"panel":"cAM","wl":"670 nm","tau":"high","sza":75,"ssa":0.969},
{"panel":"cAM","wl":"870 nm","tau":"low","sza":15,"ssa":0.928},{"panel":"cAM","wl":"870 nm","tau":"low","sza":30,"ssa":0.969},{"panel":"cAM","wl":"870 nm","tau":"low","sza":45,"ssa":0.979},{"panel":"cAM","wl":"870 nm","tau":"low","sza":60,"ssa":0.984},{"panel":"cAM","wl":"870 nm","tau":"low","sza":75,"ssa":0.984},
{"panel":"cAM","wl":"870 nm","tau":"high","sza":15,"ssa":0.950},{"panel":"cAM","wl":"870 nm","tau":"high","sza":30,"ssa":0.969},{"panel":"cAM","wl":"870 nm","tau":"high","sza":45,"ssa":0.978},{"panel":"cAM","wl":"870 nm","tau":"high","sza":60,"ssa":0.981},{"panel":"cAM","wl":"870 nm","tau":"high","sza":75,"ssa":0.981},
{"panel":"cAM","wl":"1020 nm","tau":"low","sza":15,"ssa":0.930},{"panel":"cAM","wl":"1020 nm","tau":"low","sza":30,"ssa":0.971},{"panel":"cAM","wl":"1020 nm","tau":"low","sza":45,"ssa":0.981},{"panel":"cAM","wl":"1020 nm","tau":"low","sza":60,"ssa":0.986},{"panel":"cAM","wl":"1020 nm","tau":"low","sza":75,"ssa":0.988},
{"panel":"cAM","wl":"1020 nm","tau":"high","sza":15,"ssa":0.955},{"panel":"cAM","wl":"1020 nm","tau":"high","sza":30,"ssa":0.971},{"panel":"cAM","wl":"1020 nm","tau":"high","sza":45,"ssa":0.981},{"panel":"cAM","wl":"1020 nm","tau":"high","sza":60,"ssa":0.984},{"panel":"cAM","wl":"1020 nm","tau":"high","sza":75,"ssa":0.984},

{"panel":"cAR","wl":"440 nm","tau":"low","sza":15,"ssa":0.918},{"panel":"cAR","wl":"440 nm","tau":"low","sza":30,"ssa":0.930},{"panel":"cAR","wl":"440 nm","tau":"low","sza":45,"ssa":0.933},{"panel":"cAR","wl":"440 nm","tau":"low","sza":60,"ssa":0.933},{"panel":"cAR","wl":"440 nm","tau":"low","sza":75,"ssa":0.932},
{"panel":"cAR","wl":"440 nm","tau":"high","sza":15,"ssa":0.925},{"panel":"cAR","wl":"440 nm","tau":"high","sza":30,"ssa":0.920},{"panel":"cAR","wl":"440 nm","tau":"high","sza":45,"ssa":0.923},{"panel":"cAR","wl":"440 nm","tau":"high","sza":60,"ssa":0.923},{"panel":"cAR","wl":"440 nm","tau":"high","sza":75,"ssa":0.922},
{"panel":"cAR","wl":"670 nm","tau":"low","sza":15,"ssa":0.933},{"panel":"cAR","wl":"670 nm","tau":"low","sza":30,"ssa":0.963},{"panel":"cAR","wl":"670 nm","tau":"low","sza":45,"ssa":0.968},{"panel":"cAR","wl":"670 nm","tau":"low","sza":60,"ssa":0.968},{"panel":"cAR","wl":"670 nm","tau":"low","sza":75,"ssa":0.967},
{"panel":"cAR","wl":"670 nm","tau":"high","sza":15,"ssa":0.951},{"panel":"cAR","wl":"670 nm","tau":"high","sza":30,"ssa":0.962},{"panel":"cAR","wl":"670 nm","tau":"high","sza":45,"ssa":0.967},{"panel":"cAR","wl":"670 nm","tau":"high","sza":60,"ssa":0.966},{"panel":"cAR","wl":"670 nm","tau":"high","sza":75,"ssa":0.966},
{"panel":"cAR","wl":"870 nm","tau":"low","sza":15,"ssa":0.945},{"panel":"cAR","wl":"870 nm","tau":"low","sza":30,"ssa":0.973},{"panel":"cAR","wl":"870 nm","tau":"low","sza":45,"ssa":0.978},{"panel":"cAR","wl":"870 nm","tau":"low","sza":60,"ssa":0.978},{"panel":"cAR","wl":"870 nm","tau":"low","sza":75,"ssa":0.977},
{"panel":"cAR","wl":"870 nm","tau":"high","sza":15,"ssa":0.963},{"panel":"cAR","wl":"870 nm","tau":"high","sza":30,"ssa":0.975},{"panel":"cAR","wl":"870 nm","tau":"high","sza":45,"ssa":0.978},{"panel":"cAR","wl":"870 nm","tau":"high","sza":60,"ssa":0.978},{"panel":"cAR","wl":"870 nm","tau":"high","sza":75,"ssa":0.977},
{"panel":"cAR","wl":"1020 nm","tau":"low","sza":15,"ssa":0.947},{"panel":"cAR","wl":"1020 nm","tau":"low","sza":30,"ssa":0.976},{"panel":"cAR","wl":"1020 nm","tau":"low","sza":45,"ssa":0.981},{"panel":"cAR","wl":"1020 nm","tau":"low","sza":60,"ssa":0.981},{"panel":"cAR","wl":"1020 nm","tau":"low","sza":75,"ssa":0.980},
{"panel":"cAR","wl":"1020 nm","tau":"high","sza":15,"ssa":0.969},{"panel":"cAR","wl":"1020 nm","tau":"high","sza":30,"ssa":0.977},{"panel":"cAR","wl":"1020 nm","tau":"high","sza":45,"ssa":0.980},{"panel":"cAR","wl":"1020 nm","tau":"high","sza":60,"ssa":0.980},{"panel":"cAR","wl":"1020 nm","tau":"high","sza":75,"ssa":0.980},

{"panel":"cPL","wl":"440 nm","tau":"low","sza":15,"ssa":0.930},{"panel":"cPL","wl":"440 nm","tau":"low","sza":30,"ssa":0.932},{"panel":"cPL","wl":"440 nm","tau":"low","sza":45,"ssa":0.928},{"panel":"cPL","wl":"440 nm","tau":"low","sza":60,"ssa":0.928},{"panel":"cPL","wl":"440 nm","tau":"low","sza":75,"ssa":0.931},
{"panel":"cPL","wl":"440 nm","tau":"high","sza":15,"ssa":0.924},{"panel":"cPL","wl":"440 nm","tau":"high","sza":30,"ssa":0.923},{"panel":"cPL","wl":"440 nm","tau":"high","sza":45,"ssa":0.917},{"panel":"cPL","wl":"440 nm","tau":"high","sza":60,"ssa":0.928},{"panel":"cPL","wl":"440 nm","tau":"high","sza":75,"ssa":0.918},
{"panel":"cPL","wl":"670 nm","tau":"low","sza":15,"ssa":0.942},{"panel":"cPL","wl":"670 nm","tau":"low","sza":30,"ssa":0.944},{"panel":"cPL","wl":"670 nm","tau":"low","sza":45,"ssa":0.940},{"panel":"cPL","wl":"670 nm","tau":"low","sza":60,"ssa":0.941},{"panel":"cPL","wl":"670 nm","tau":"low","sza":75,"ssa":0.950},
{"panel":"cPL","wl":"670 nm","tau":"high","sza":15,"ssa":0.948},{"panel":"cPL","wl":"670 nm","tau":"high","sza":30,"ssa":0.950},{"panel":"cPL","wl":"670 nm","tau":"high","sza":45,"ssa":0.947},{"panel":"cPL","wl":"670 nm","tau":"high","sza":60,"ssa":0.953},{"panel":"cPL","wl":"670 nm","tau":"high","sza":75,"ssa":0.956},
{"panel":"cPL","wl":"870 nm","tau":"low","sza":15,"ssa":0.953},{"panel":"cPL","wl":"870 nm","tau":"low","sza":30,"ssa":0.954},{"panel":"cPL","wl":"870 nm","tau":"low","sza":45,"ssa":0.949},{"panel":"cPL","wl":"870 nm","tau":"low","sza":60,"ssa":0.950},{"panel":"cPL","wl":"870 nm","tau":"low","sza":75,"ssa":0.961},
{"panel":"cPL","wl":"870 nm","tau":"high","sza":15,"ssa":0.959},{"panel":"cPL","wl":"870 nm","tau":"high","sza":30,"ssa":0.961},{"panel":"cPL","wl":"870 nm","tau":"high","sza":45,"ssa":0.959},{"panel":"cPL","wl":"870 nm","tau":"high","sza":60,"ssa":0.962},{"panel":"cPL","wl":"870 nm","tau":"high","sza":75,"ssa":0.966},
{"panel":"cPL","wl":"1020 nm","tau":"low","sza":15,"ssa":0.956},{"panel":"cPL","wl":"1020 nm","tau":"low","sza":30,"ssa":0.957},{"panel":"cPL","wl":"1020 nm","tau":"low","sza":45,"ssa":0.953},{"panel":"cPL","wl":"1020 nm","tau":"low","sza":60,"ssa":0.954},{"panel":"cPL","wl":"1020 nm","tau":"low","sza":75,"ssa":0.964},
{"panel":"cPL","wl":"1020 nm","tau":"high","sza":15,"ssa":0.962},{"panel":"cPL","wl":"1020 nm","tau":"high","sza":30,"ssa":0.965},{"panel":"cPL","wl":"1020 nm","tau":"high","sza":45,"ssa":0.963},{"panel":"cPL","wl":"1020 nm","tau":"high","sza":60,"ssa":0.967},{"panel":"cPL","wl":"1020 nm","tau":"high","sza":75,"ssa":0.970},

{"panel":"cPM","wl":"440 nm","tau":"low","sza":15,"ssa":0.952},{"panel":"cPM","wl":"440 nm","tau":"low","sza":30,"ssa":0.954},{"panel":"cPM","wl":"440 nm","tau":"low","sza":45,"ssa":0.952},{"panel":"cPM","wl":"440 nm","tau":"low","sza":60,"ssa":0.947},{"panel":"cPM","wl":"440 nm","tau":"low","sza":75,"ssa":0.941},
{"panel":"cPM","wl":"440 nm","tau":"high","sza":15,"ssa":0.936},{"panel":"cPM","wl":"440 nm","tau":"high","sza":30,"ssa":0.937},{"panel":"cPM","wl":"440 nm","tau":"high","sza":45,"ssa":0.935},{"panel":"cPM","wl":"440 nm","tau":"high","sza":60,"ssa":0.932},{"panel":"cPM","wl":"440 nm","tau":"high","sza":75,"ssa":0.926},
{"panel":"cPM","wl":"670 nm","tau":"low","sza":15,"ssa":0.982},{"panel":"cPM","wl":"670 nm","tau":"low","sza":30,"ssa":0.983},{"panel":"cPM","wl":"670 nm","tau":"low","sza":45,"ssa":0.983},{"panel":"cPM","wl":"670 nm","tau":"low","sza":60,"ssa":0.983},{"panel":"cPM","wl":"670 nm","tau":"low","sza":75,"ssa":0.981},
{"panel":"cPM","wl":"670 nm","tau":"high","sza":15,"ssa":0.979},{"panel":"cPM","wl":"670 nm","tau":"high","sza":30,"ssa":0.980},{"panel":"cPM","wl":"670 nm","tau":"high","sza":45,"ssa":0.980},{"panel":"cPM","wl":"670 nm","tau":"high","sza":60,"ssa":0.980},{"panel":"cPM","wl":"670 nm","tau":"high","sza":75,"ssa":0.975},
{"panel":"cPM","wl":"870 nm","tau":"low","sza":15,"ssa":0.987},{"panel":"cPM","wl":"870 nm","tau":"low","sza":30,"ssa":0.987},{"panel":"cPM","wl":"870 nm","tau":"low","sza":45,"ssa":0.987},{"panel":"cPM","wl":"870 nm","tau":"low","sza":60,"ssa":0.987},{"panel":"cPM","wl":"870 nm","tau":"low","sza":75,"ssa":0.986},
{"panel":"cPM","wl":"870 nm","tau":"high","sza":15,"ssa":0.985},{"panel":"cPM","wl":"870 nm","tau":"high","sza":30,"ssa":0.985},{"panel":"cPM","wl":"870 nm","tau":"high","sza":45,"ssa":0.985},{"panel":"cPM","wl":"870 nm","tau":"high","sza":60,"ssa":0.985},{"panel":"cPM","wl":"870 nm","tau":"high","sza":75,"ssa":0.984},
{"panel":"cPM","wl":"1020 nm","tau":"low","sza":15,"ssa":0.990},{"panel":"cPM","wl":"1020 nm","tau":"low","sza":30,"ssa":0.991},{"panel":"cPM","wl":"1020 nm","tau":"low","sza":45,"ssa":0.991},{"panel":"cPM","wl":"1020 nm","tau":"low","sza":60,"ssa":0.991},{"panel":"cPM","wl":"1020 nm","tau":"low","sza":75,"ssa":0.990},
{"panel":"cPM","wl":"1020 nm","tau":"high","sza":15,"ssa":0.989},{"panel":"cPM","wl":"1020 nm","tau":"high","sza":30,"ssa":0.989},{"panel":"cPM","wl":"1020 nm","tau":"high","sza":45,"ssa":0.989},{"panel":"cPM","wl":"1020 nm","tau":"high","sza":60,"ssa":0.989},{"panel":"cPM","wl":"1020 nm","tau":"high","sza":75,"ssa":0.988},

{"panel":"cPR","wl":"440 nm","tau":"low","sza":15,"ssa":0.930},{"panel":"cPR","wl":"440 nm","tau":"low","sza":30,"ssa":0.930},{"panel":"cPR","wl":"440 nm","tau":"low","sza":45,"ssa":0.930},{"panel":"cPR","wl":"440 nm","tau":"low","sza":60,"ssa":0.930},{"panel":"cPR","wl":"440 nm","tau":"low","sza":75,"ssa":0.930},
{"panel":"cPR","wl":"440 nm","tau":"high","sza":15,"ssa":0.921},{"panel":"cPR","wl":"440 nm","tau":"high","sza":30,"ssa":0.921},{"panel":"cPR","wl":"440 nm","tau":"high","sza":45,"ssa":0.921},{"panel":"cPR","wl":"440 nm","tau":"high","sza":60,"ssa":0.921},{"panel":"cPR","wl":"440 nm","tau":"high","sza":75,"ssa":0.921},
{"panel":"cPR","wl":"670 nm","tau":"low","sza":15,"ssa":0.966},{"panel":"cPR","wl":"670 nm","tau":"low","sza":30,"ssa":0.966},{"panel":"cPR","wl":"670 nm","tau":"low","sza":45,"ssa":0.966},{"panel":"cPR","wl":"670 nm","tau":"low","sza":60,"ssa":0.966},{"panel":"cPR","wl":"670 nm","tau":"low","sza":75,"ssa":0.966},
{"panel":"cPR","wl":"670 nm","tau":"high","sza":15,"ssa":0.965},{"panel":"cPR","wl":"670 nm","tau":"high","sza":30,"ssa":0.965},{"panel":"cPR","wl":"670 nm","tau":"high","sza":45,"ssa":0.965},{"panel":"cPR","wl":"670 nm","tau":"high","sza":60,"ssa":0.965},{"panel":"cPR","wl":"670 nm","tau":"high","sza":75,"ssa":0.965},
{"panel":"cPR","wl":"870 nm","tau":"low","sza":15,"ssa":0.977},{"panel":"cPR","wl":"870 nm","tau":"low","sza":30,"ssa":0.977},{"panel":"cPR","wl":"870 nm","tau":"low","sza":45,"ssa":0.977},{"panel":"cPR","wl":"870 nm","tau":"low","sza":60,"ssa":0.977},{"panel":"cPR","wl":"870 nm","tau":"low","sza":75,"ssa":0.977},
{"panel":"cPR","wl":"870 nm","tau":"high","sza":15,"ssa":0.976},{"panel":"cPR","wl":"870 nm","tau":"high","sza":30,"ssa":0.976},{"panel":"cPR","wl":"870 nm","tau":"high","sza":45,"ssa":0.976},{"panel":"cPR","wl":"870 nm","tau":"high","sza":60,"ssa":0.976},{"panel":"cPR","wl":"870 nm","tau":"high","sza":75,"ssa":0.976},
{"panel":"cPR","wl":"1020 nm","tau":"low","sza":15,"ssa":0.979},{"panel":"cPR","wl":"1020 nm","tau":"low","sza":30,"ssa":0.979},{"panel":"cPR","wl":"1020 nm","tau":"low","sza":45,"ssa":0.979},{"panel":"cPR","wl":"1020 nm","tau":"low","sza":60,"ssa":0.979},{"panel":"cPR","wl":"1020 nm","tau":"low","sza":75,"ssa":0.979},
{"panel":"cPR","wl":"1020 nm","tau":"high","sza":15,"ssa":0.978},{"panel":"cPR","wl":"1020 nm","tau":"high","sza":30,"ssa":0.978},{"panel":"cPR","wl":"1020 nm","tau":"high","sza":45,"ssa":0.978},{"panel":"cPR","wl":"1020 nm","tau":"high","sza":60,"ssa":0.978},{"panel":"cPR","wl":"1020 nm","tau":"high","sza":75,"ssa":0.978}
]},
"spacing":15.5,
"resolve":{"scale":{"color":"independent","strokeDash":"independent"},"legend":{"color":"independent","strokeDash":"independent"}},
"vconcat":[
{"columns":3,"spacing":{"row":3,"column":5},"bounds":"flush",
 "resolve":{"scale":{"color":"independent","strokeDash":"independent"},"legend":{"color":"independent","strokeDash":"independent"}},
 "concat":[
  {"width":190,"height":117,"data":{"name":"ssa"},"layer":[
   {"transform":[{"filter":{"field":"panel","equal":"aAL"}}],"mark":"line","encoding":{
     "x":{"field":"sza","type":"quantitative","title":null,"scale":{"domain":[10,80]},"axis":{"orient":"bottom","values":[15,30,45,60,75],"labels":false}},
     "y":{"field":"ssa","type":"quantitative","title":"Single Scattering Albedo","scale":{"domain":[0.7,1]},"axis":{"orient":"left","values":[0.7,0.72,0.74,0.76,0.78,0.8,0.82,0.84,0.86,0.88,0.9,0.92,0.94,0.96,0.98,1],"format":"~g","labelExpr":"indexof([0.76,0.84,0.92,1], datum.value) >= 0 ? datum.label : ''","tickSize":{"condition":{"test":"indexof([0.76,0.84,0.92,1], datum.value) >= 0","value":-4},"value":-2},"titleX":-35,"titleY":118.5,"titleAngle":270,"titleBaseline":"middle","titleAlign":"center","titleFontSize":12.5}},
     "color":{"field":"wl","type":"nominal","scale":{"domain":["440 nm","670 nm","870 nm","1020 nm"],"range":["#0000ff","#00e000","#ffee00","#ff0000"]},"legend":null},
     "strokeDash":{"field":"tau","type":"nominal","scale":{"domain":["low","high"],"range":[[1,0],[5,3]]},"legend":null}}},
   {"transform":[{"filter":{"field":"panel","equal":"aAL"}}],"mark":"point","encoding":{
     "x":{"field":"sza","type":"quantitative","title":null,"scale":{"domain":[10,80]},"axis":{"orient":"top","values":[15,30,45,60,75],"labels":false}},
     "y":{"field":"ssa","type":"quantitative","title":null,"scale":{"domain":[0.7,1]},"axis":{"orient":"right","values":[0.7,0.72,0.74,0.76,0.78,0.8,0.82,0.84,0.86,0.88,0.9,0.92,0.94,0.96,0.98,1],"labels":false,"tickSize":{"condition":{"test":"indexof([0.76,0.84,0.92,1], datum.value) >= 0","value":-4},"value":-2}}},
     "color":{"field":"wl","type":"nominal","scale":{"domain":["440 nm","670 nm","870 nm","1020 nm"],"range":["#0000ff","#00e000","#ffee00","#ff0000"]},"legend":null}}},
   {"data":{"values":[{}]},"mark":{"type":"rect","fill":"#fff","stroke":"#333","strokeWidth":1.2},"encoding":{"x":{"datum":10.5,"type":"quantitative","axis":null},"x2":{"datum":40.8},"y":{"datum":0.997,"type":"quantitative","axis":null},"y2":{"datum":0.903}}},
   {"data":{"values":[{}]},"mark":{"type":"text","font":"Liberation Serif","fontWeight":"bold","fontSize":9,"align":"left","baseline":"top","lineHeight":12.5},"encoding":{"x":{"datum":12.7,"type":"quantitative","axis":null},"y":{"datum":0.990,"type":"quantitative","axis":null},"text":{"value":["ALM – Point. Err.:","\u00a0Ver. = 0.4°","\u00a0Hor. = 0.0 °"]}}}
  ],"resolve":{"axis":{"x":"independent","y":"independent"}}},

  {"width":190,"height":117,"data":{"name":"ssa"},"title":{"text":"a) Mongu - Biomass burning"},"layer":[
   {"transform":[{"filter":{"field":"panel","equal":"aAM"}}],"mark":"line","encoding":{
     "x":{"field":"sza","type":"quantitative","title":null,"scale":{"domain":[10,80]},"axis":{"orient":"bottom","values":[15,30,45,60,75],"labels":false}},
     "y":{"field":"ssa","type":"quantitative","title":null,"scale":{"domain":[0.7,1]},"axis":{"orient":"left","values":[0.7,0.72,0.74,0.76,0.78,0.8,0.82,0.84,0.86,0.88,0.9,0.92,0.94,0.96,0.98,1],"labels":false,"tickSize":{"condition":{"test":"indexof([0.76,0.84,0.92,1], datum.value) >= 0","value":-4},"value":-2}}},
     "color":{"field":"wl","type":"nominal","scale":{"domain":["440 nm","670 nm","870 nm","1020 nm"],"range":["#0000ff","#00e000","#ffee00","#ff0000"]},"legend":null},
     "strokeDash":{"field":"tau","type":"nominal","scale":{"domain":["low","high"],"range":[[1,0],[5,3]]},"legend":null}}},
   {"transform":[{"filter":{"field":"panel","equal":"aAM"}}],"mark":"point","encoding":{
     "x":{"field":"sza","type":"quantitative","title":null,"scale":{"domain":[10,80]},"axis":{"orient":"top","values":[15,30,45,60,75],"labels":false}},
     "y":{"field":"ssa","type":"quantitative","title":null,"scale":{"domain":[0.7,1]},"axis":{"orient":"right","values":[0.7,0.72,0.74,0.76,0.78,0.8,0.82,0.84,0.86,0.88,0.9,0.92,0.94,0.96,0.98,1],"labels":false,"tickSize":{"condition":{"test":"indexof([0.76,0.84,0.92,1], datum.value) >= 0","value":-4},"value":-2}}},
     "color":{"field":"wl","type":"nominal","scale":{"domain":["440 nm","670 nm","870 nm","1020 nm"],"range":["#0000ff","#00e000","#ffee00","#ff0000"]},"legend":null}}},
   {"data":{"values":[{}]},"mark":{"type":"rect","fill":"#fff","stroke":"#333","strokeWidth":1.2},"encoding":{"x":{"datum":11.4,"type":"quantitative","axis":null},"x2":{"datum":41.0},"y":{"datum":0.997,"type":"quantitative","axis":null},"y2":{"datum":0.903}}},
   {"data":{"values":[{}]},"mark":{"type":"text","font":"Liberation Serif","fontWeight":"bold","fontSize":9,"align":"left","baseline":"top","lineHeight":12.5},"encoding":{"x":{"datum":13.5,"type":"quantitative","axis":null},"y":{"datum":0.990,"type":"quantitative","axis":null},"text":{"value":["ALM – Point. Err.:","\u00a0Ver. = –0.4°","\u00a0Hor. = 0.0 °"]}}}
  ],"resolve":{"axis":{"x":"independent","y":"independent"}}},

  {"width":187,"height":117,"data":{"name":"ssa"},"layer":[
   {"transform":[{"filter":{"field":"panel","equal":"aAR"}}],"mark":"line","encoding":{
     "x":{"field":"sza","type":"quantitative","title":null,"scale":{"domain":[10,78.75]},"axis":{"orient":"bottom","values":[15,30,45,60,75],"labels":false}},
     "y":{"field":"ssa","type":"quantitative","title":null,"scale":{"domain":[0.7,1]},"axis":{"orient":"left","values":[0.7,0.72,0.74,0.76,0.78,0.8,0.82,0.84,0.86,0.88,0.9,0.92,0.94,0.96,0.98,1],"labels":false,"tickSize":{"condition":{"test":"indexof([0.76,0.84,0.92,1], datum.value) >= 0","value":-4},"value":-2}}},
     "color":{"field":"wl","type":"nominal","scale":{"domain":["440 nm","670 nm","870 nm","1020 nm"],"range":["#0000ff","#00e000","#ffee00","#ff0000"]},"legend":null},
     "strokeDash":{"field":"tau","type":"nominal","scale":{"domain":["low","high"],"range":[[1,0],[5,3]]},"legend":null}}},
   {"transform":[{"filter":{"field":"panel","equal":"aAR"}}],"mark":"point","encoding":{
     "x":{"field":"sza","type":"quantitative","title":null,"scale":{"domain":[10,78.75]},"axis":{"orient":"top","values":[15,30,45,60,75],"labels":false}},
     "y":{"field":"ssa","type":"quantitative","title":null,"scale":{"domain":[0.7,1]},"axis":{"orient":"right","values":[0.7,0.72,0.74,0.76,0.78,0.8,0.82,0.84,0.86,0.88,0.9,0.92,0.94,0.96,0.98,1],"labels":false,"tickSize":{"condition":{"test":"indexof([0.76,0.84,0.92,1], datum.value) >= 0","value":-4},"value":-2}}},
     "color":{"field":"wl","type":"nominal","scale":{"domain":["440 nm","670 nm","870 nm","1020 nm"],"range":["#0000ff","#00e000","#ffee00","#ff0000"]},"legend":null}}},
   {"data":{"values":[{}]},"mark":{"type":"rect","fill":"#fff","stroke":"#333","strokeWidth":1.2},"encoding":{"x":{"datum":11.2,"type":"quantitative","axis":null},"x2":{"datum":40.8},"y":{"datum":0.997,"type":"quantitative","axis":null},"y2":{"datum":0.903}}},
   {"data":{"values":[{}]},"mark":{"type":"text","font":"Liberation Serif","fontWeight":"bold","fontSize":9,"align":"left","baseline":"top","lineHeight":12.5},"encoding":{"x":{"datum":13.4,"type":"quantitative","axis":null},"y":{"datum":0.990,"type":"quantitative","axis":null},"text":{"value":["ALM – Point. Err.:","\u00a0Ver. = 0.0°","\u00a0Hor. = 0.4°"]}}}
  ],"resolve":{"axis":{"x":"independent","y":"independent"}}},

  {"width":190,"height":117,"data":{"name":"ssa"},"layer":[
   {"transform":[{"filter":{"field":"panel","equal":"aPL"}}],"mark":"line","encoding":{
     "x":{"field":"sza","type":"quantitative","title":null,"scale":{"domain":[10,80]},"axis":{"orient":"bottom","values":[15,30,45,60,75]}},
     "y":{"field":"ssa","type":"quantitative","title":null,"scale":{"domain":[0.7,1]},"axis":{"orient":"left","values":[0.7,0.72,0.74,0.76,0.78,0.8,0.82,0.84,0.86,0.88,0.9,0.92,0.94,0.96,0.98,1],"format":"~g","labelExpr":"indexof([0.76,0.84,0.92,1], datum.value) >= 0 ? datum.label : ''","tickSize":{"condition":{"test":"indexof([0.76,0.84,0.92,1], datum.value) >= 0","value":-4},"value":-2}}},
     "color":{"field":"wl","type":"nominal","scale":{"domain":["440 nm","670 nm","870 nm","1020 nm"],"range":["#0000ff","#00e000","#ffee00","#ff0000"]},"legend":null},
     "strokeDash":{"field":"tau","type":"nominal","scale":{"domain":["low","high"],"range":[[1,0],[5,3]]},"legend":null}}},
   {"transform":[{"filter":{"field":"panel","equal":"aPL"}}],"mark":"point","encoding":{
     "x":{"field":"sza","type":"quantitative","title":null,"scale":{"domain":[10,80]},"axis":{"orient":"top","values":[15,30,45,60,75],"labels":false}},
     "y":{"field":"ssa","type":"quantitative","title":null,"scale":{"domain":[0.7,1]},"axis":{"orient":"right","values":[0.7,0.72,0.74,0.76,0.78,0.8,0.82,0.84,0.86,0.88,0.9,0.92,0.94,0.96,0.98,1],"labels":false,"tickSize":{"condition":{"test":"indexof([0.76,0.84,0.92,1], datum.value) >= 0","value":-4},"value":-2}}},
     "color":{"field":"wl","type":"nominal","scale":{"domain":["440 nm","670 nm","870 nm","1020 nm"],"range":["#0000ff","#00e000","#ffee00","#ff0000"]},"legend":null}}},
   {"data":{"values":[{}]},"mark":{"type":"rect","fill":"#fff","stroke":"#333","strokeWidth":1.2},"encoding":{"x":{"datum":11.2,"type":"quantitative","axis":null},"x2":{"datum":39.3},"y":{"datum":0.996,"type":"quantitative","axis":null},"y2":{"datum":0.903}}},
   {"data":{"values":[{}]},"mark":{"type":"text","font":"Liberation Serif","fontWeight":"bold","fontSize":9,"align":"left","baseline":"top","lineHeight":11.5},"encoding":{"x":{"datum":13.4,"type":"quantitative","axis":null},"y":{"datum":0.987,"type":"quantitative","axis":null},"text":{"value":["PPL – Point. Err.:","Ver. = 0.4°","Hor. = 0.0 °"]}}},
   {"data":{"values":[{}]},"mark":{"type":"rect","fill":"#fff","stroke":"#333","strokeWidth":1.2},"encoding":{"x":{"datum":45.55,"type":"quantitative","axis":null},"x2":{"datum":79.0},"y":{"datum":0.9928,"type":"quantitative","axis":null},"y2":{"datum":0.9584}}},
   {"data":{"values":[{}]},"mark":{"type":"rect","fill":"#fff","stroke":"#333","strokeWidth":1.2},"encoding":{"x":{"datum":45.55,"type":"quantitative","axis":null},"x2":{"datum":79.0},"y":{"datum":0.9524,"type":"quantitative","axis":null},"y2":{"datum":0.9131}}},
   {"data":{"values":[{}]},"mark":{"type":"rule","color":"#000","strokeWidth":1.5},"encoding":{"x":{"datum":46.7,"type":"quantitative","axis":null},"x2":{"datum":51.1},"y":{"datum":0.9756,"type":"quantitative","axis":null}}},
   {"data":{"values":[{}]},"mark":{"type":"rule","color":"#000","strokeWidth":1.5,"strokeDash":[4,3]},"encoding":{"x":{"datum":46.7,"type":"quantitative","axis":null},"x2":{"datum":51.1},"y":{"datum":0.9327,"type":"quantitative","axis":null}}},
   {"data":{"values":[{}]},"mark":{"type":"text","font":"Liberation Serif","fontWeight":"bold","fontSize":8.5,"align":"left","baseline":"middle"},"encoding":{"x":{"datum":52.35,"type":"quantitative","axis":null},"y":{"datum":0.9756,"type":"quantitative","axis":null},"text":{"value":"Zambia: τ₄₄₀ = 0.4"}}},
   {"data":{"values":[{}]},"mark":{"type":"text","font":"Liberation Serif","fontWeight":"bold","fontSize":8.5,"align":"left","baseline":"middle"},"encoding":{"x":{"datum":52.35,"type":"quantitative","axis":null},"y":{"datum":0.9327,"type":"quantitative","axis":null},"text":{"value":"Zambia: τ₄₄₀ = 0.8"}}}
  ],"resolve":{"axis":{"x":"independent","y":"independent"}}},

  {"width":190,"height":117,"data":{"name":"ssa"},"layer":[
   {"transform":[{"filter":{"field":"panel","equal":"aPM"}}],"mark":"line","encoding":{
     "x":{"field":"sza","type":"quantitative","title":"Solar Zenith Angle [°]","scale":{"domain":[10,80]},"axis":{"orient":"bottom","values":[15,30,45,60,75],"titleFontSize":14,"titlePadding":8.5}},
     "y":{"field":"ssa","type":"quantitative","title":null,"scale":{"domain":[0.7,1]},"axis":{"orient":"left","values":[0.7,0.72,0.74,0.76,0.78,0.8,0.82,0.84,0.86,0.88,0.9,0.92,0.94,0.96,0.98,1],"labels":false,"tickSize":{"condition":{"test":"indexof([0.76,0.84,0.92,1], datum.value) >= 0","value":-4},"value":-2}}},
     "color":{"field":"wl","type":"nominal","scale":{"domain":["440 nm","670 nm","870 nm","1020 nm"],"range":["#0000ff","#00e000","#ffee00","#ff0000"]},"legend":null},
     "strokeDash":{"field":"tau","type":"nominal","scale":{"domain":["low","high"],"range":[[1,0],[5,3]]},"legend":null}}},
   {"transform":[{"filter":{"field":"panel","equal":"aPM"}}],"mark":"point","encoding":{
     "x":{"field":"sza","type":"quantitative","title":null,"scale":{"domain":[10,80]},"axis":{"orient":"top","values":[15,30,45,60,75],"labels":false}},
     "y":{"field":"ssa","type":"quantitative","title":null,"scale":{"domain":[0.7,1]},"axis":{"orient":"right","values":[0.7,0.72,0.74,0.76,0.78,0.8,0.82,0.84,0.86,0.88,0.9,0.92,0.94,0.96,0.98,1],"labels":false,"tickSize":{"condition":{"test":"indexof([0.76,0.84,0.92,1], datum.value) >= 0","value":-4},"value":-2}}},
     "color":{"field":"wl","type":"nominal","scale":{"domain":["440 nm","670 nm","870 nm","1020 nm"],"range":["#0000ff","#00e000","#ffee00","#ff0000"]},"legend":null}}},
   {"data":{"values":[{}]},"mark":{"type":"rect","fill":"#fff","stroke":"#333","strokeWidth":1.2},"encoding":{"x":{"datum":11.7,"type":"quantitative","axis":null},"x2":{"datum":40.3},"y":{"datum":0.996,"type":"quantitative","axis":null},"y2":{"datum":0.903}}},
   {"data":{"values":[{}]},"mark":{"type":"text","font":"Liberation Serif","fontWeight":"bold","fontSize":9,"align":"left","baseline":"top","lineHeight":11.5},"encoding":{"x":{"datum":13.6,"type":"quantitative","axis":null},"y":{"datum":0.987,"type":"quantitative","axis":null},"text":{"value":["PPL – Point. Err.:","Ver. = –0.4°","Hor. = 0.0 °"]}}}
  ],"resolve":{"axis":{"x":"independent","y":"independent"}}},

  {"width":187,"height":117,"data":{"name":"ssa"},"layer":[
   {"transform":[{"filter":{"field":"panel","equal":"aPR"}}],"mark":"line","encoding":{
     "x":{"field":"sza","type":"quantitative","title":null,"scale":{"domain":[10,78.75]},"axis":{"orient":"bottom","values":[15,30,45,60,75]}},
     "y":{"field":"ssa","type":"quantitative","title":null,"scale":{"domain":[0.7,1]},"axis":{"orient":"left","values":[0.7,0.72,0.74,0.76,0.78,0.8,0.82,0.84,0.86,0.88,0.9,0.92,0.94,0.96,0.98,1],"labels":false,"tickSize":{"condition":{"test":"indexof([0.76,0.84,0.92,1], datum.value) >= 0","value":-4},"value":-2}}},
     "color":{"field":"wl","type":"nominal","scale":{"domain":["440 nm","670 nm","870 nm","1020 nm"],"range":["#0000ff","#00e000","#ffee00","#ff0000"]},"legend":{"title":null,"orient":"top-right","offset":4,"padding":2,"rowPadding":-2.8,"labelFont":"Liberation Sans","labelFontSize":8,"labelOffset":14,"symbolOffset":6,"symbolType":"M-2.4,-0.19L2.4,-0.19L2.4,0.19L-2.4,0.19Z M0.65,0A0.65,0.65,0,1,1,-0.65,0A0.65,0.65,0,1,1,0.65,0Z","symbolSize":64,"symbolStrokeWidth":0.4,"strokeColor":"#222","fillColor":"#fff"}},
     "strokeDash":{"field":"tau","type":"nominal","scale":{"domain":["low","high"],"range":[[1,0],[5,3]]},"legend":null}}},
   {"transform":[{"filter":{"field":"panel","equal":"aPR"}}],"mark":"point","encoding":{
     "x":{"field":"sza","type":"quantitative","title":null,"scale":{"domain":[10,78.75]},"axis":{"orient":"top","values":[15,30,45,60,75],"labels":false}},
     "y":{"field":"ssa","type":"quantitative","title":null,"scale":{"domain":[0.7,1]},"axis":{"orient":"right","values":[0.7,0.72,0.74,0.76,0.78,0.8,0.82,0.84,0.86,0.88,0.9,0.92,0.94,0.96,0.98,1],"labels":false,"tickSize":{"condition":{"test":"indexof([0.76,0.84,0.92,1], datum.value) >= 0","value":-4},"value":-2}}},
     "color":{"field":"wl","type":"nominal","scale":{"domain":["440 nm","670 nm","870 nm","1020 nm"],"range":["#0000ff","#00e000","#ffee00","#ff0000"]},"legend":{"title":null,"orient":"top-right","offset":4,"padding":2,"rowPadding":-2.8,"labelFont":"Liberation Sans","labelFontSize":8,"labelOffset":14,"symbolOffset":6,"symbolType":"M-2.4,-0.19L2.4,-0.19L2.4,0.19L-2.4,0.19Z M0.65,0A0.65,0.65,0,1,1,-0.65,0A0.65,0.65,0,1,1,0.65,0Z","symbolSize":64,"symbolStrokeWidth":0.4,"strokeColor":"#222","fillColor":"#fff"}}}},
   {"data":{"values":[{}]},"mark":{"type":"rect","fill":"#fff","stroke":"#333","strokeWidth":1.2},"encoding":{"x":{"datum":11.2,"type":"quantitative","axis":null},"x2":{"datum":40.8},"y":{"datum":0.996,"type":"quantitative","axis":null},"y2":{"datum":0.903}}},
   {"data":{"values":[{}]},"mark":{"type":"text","font":"Liberation Serif","fontWeight":"bold","fontSize":9,"align":"left","baseline":"top","lineHeight":11.5},"encoding":{"x":{"datum":13.4,"type":"quantitative","axis":null},"y":{"datum":0.987,"type":"quantitative","axis":null},"text":{"value":["PPL – Point. Err.:","Ver. = 0.0°","Hor. = 0.4 °"]}}}
  ],"resolve":{"axis":{"x":"independent","y":"independent"}}}
 ]},

{"spacing":13,
 "resolve":{"scale":{"color":"independent","strokeDash":"independent"},"legend":{"color":"independent","strokeDash":"independent"}},
 "vconcat":[

{"columns":3,"spacing":{"row":5.5,"column":5},"bounds":"flush",
 "resolve":{"scale":{"color":"independent","strokeDash":"independent"},"legend":{"color":"independent","strokeDash":"independent"}},
 "concat":[
  {"width":190,"height":115,"data":{"name":"ssa"},"layer":[
   {"transform":[{"filter":{"field":"panel","equal":"bAL"}}],"mark":"line","encoding":{
     "x":{"field":"sza","type":"quantitative","title":null,"scale":{"domain":[10,80]},"axis":{"orient":"bottom","values":[15,30,45,60,75],"labels":false}},
     "y":{"field":"ssa","type":"quantitative","title":"Single Scattering Albedo","scale":{"domain":[0.85,1]},"axis":{"orient":"left","values":[0.85,0.86,0.87,0.88,0.89,0.9,0.91,0.92,0.93,0.94,0.95,0.96,0.97,0.98,0.99,1],"format":"~g","labelExpr":"indexof([0.9,0.95,1], datum.value) >= 0 ? datum.label : ''","tickSize":{"condition":{"test":"indexof([0.9,0.95,1], datum.value) >= 0","value":-4},"value":-2},"titleX":-35,"titleY":117.8,"titleAngle":270,"titleBaseline":"middle","titleAlign":"center","titleFontSize":12.5}},
     "color":{"field":"wl","type":"nominal","scale":{"domain":["440 nm","670 nm","870 nm","1020 nm"],"range":["#0000ff","#00e000","#ffee00","#ff0000"]},"legend":null},
     "strokeDash":{"field":"tau","type":"nominal","scale":{"domain":["low","high"],"range":[[1,0],[5,3]]},"legend":null}}},
   {"transform":[{"filter":{"field":"panel","equal":"bAL"}}],"mark":"point","encoding":{
     "x":{"field":"sza","type":"quantitative","title":null,"scale":{"domain":[10,80]},"axis":{"orient":"top","values":[15,30,45,60,75],"labels":false}},
     "y":{"field":"ssa","type":"quantitative","title":null,"scale":{"domain":[0.85,1]},"axis":{"orient":"right","values":[0.85,0.86,0.87,0.88,0.89,0.9,0.91,0.92,0.93,0.94,0.95,0.96,0.97,0.98,0.99,1],"labels":false,"tickSize":{"condition":{"test":"indexof([0.9,0.95,1], datum.value) >= 0","value":-4},"value":-2}}},
     "color":{"field":"wl","type":"nominal","scale":{"domain":["440 nm","670 nm","870 nm","1020 nm"],"range":["#0000ff","#00e000","#ffee00","#ff0000"]},"legend":null}}},
   {"data":{"values":[{}]},"mark":{"type":"rect","fill":"#fff","stroke":"#333","strokeWidth":1.2},"encoding":{"x":{"datum":11.2,"type":"quantitative","axis":null},"x2":{"datum":31.2},"y":{"datum":0.9161,"type":"quantitative","axis":null},"y2":{"datum":0.8525}}},
   {"data":{"values":[{}]},"mark":{"type":"text","font":"Liberation Serif","fontWeight":"bold","fontSize":8.5,"align":"left","baseline":"top","lineHeight":10.6},"encoding":{"x":{"datum":13.8,"type":"quantitative","axis":null},"y":{"datum":0.910,"type":"quantitative","axis":null},"text":{"value":["\u00a0ALM","Point. Err.:","Ver. = 0.4°","Hor. = 0.0°"]}}}
  ],"resolve":{"axis":{"x":"independent","y":"independent"}}},

  {"width":190,"height":115,"data":{"name":"ssa"},"title":{"text":"b) GSFC - Urban"},"layer":[
   {"transform":[{"filter":{"field":"panel","equal":"bAM"}}],"mark":"line","encoding":{
     "x":{"field":"sza","type":"quantitative","title":null,"scale":{"domain":[10,80]},"axis":{"orient":"bottom","values":[15,30,45,60,75],"labels":false}},
     "y":{"field":"ssa","type":"quantitative","title":null,"scale":{"domain":[0.85,1]},"axis":{"orient":"left","values":[0.85,0.86,0.87,0.88,0.89,0.9,0.91,0.92,0.93,0.94,0.95,0.96,0.97,0.98,0.99,1],"labels":false,"tickSize":{"condition":{"test":"indexof([0.9,0.95,1], datum.value) >= 0","value":-4},"value":-2}}},
     "color":{"field":"wl","type":"nominal","scale":{"domain":["440 nm","670 nm","870 nm","1020 nm"],"range":["#0000ff","#00e000","#ffee00","#ff0000"]},"legend":null},
     "strokeDash":{"field":"tau","type":"nominal","scale":{"domain":["low","high"],"range":[[1,0],[5,3]]},"legend":null}}},
   {"transform":[{"filter":{"field":"panel","equal":"bAM"}}],"mark":"point","encoding":{
     "x":{"field":"sza","type":"quantitative","title":null,"scale":{"domain":[10,80]},"axis":{"orient":"top","values":[15,30,45,60,75],"labels":false}},
     "y":{"field":"ssa","type":"quantitative","title":null,"scale":{"domain":[0.85,1]},"axis":{"orient":"right","values":[0.85,0.86,0.87,0.88,0.89,0.9,0.91,0.92,0.93,0.94,0.95,0.96,0.97,0.98,0.99,1],"labels":false,"tickSize":{"condition":{"test":"indexof([0.9,0.95,1], datum.value) >= 0","value":-4},"value":-2}}},
     "color":{"field":"wl","type":"nominal","scale":{"domain":["440 nm","670 nm","870 nm","1020 nm"],"range":["#0000ff","#00e000","#ffee00","#ff0000"]},"legend":null}}},
   {"data":{"values":[{}]},"mark":{"type":"rect","fill":"#fff","stroke":"#333","strokeWidth":1.2},"encoding":{"x":{"datum":59.5,"type":"quantitative","axis":null},"x2":{"datum":79.3},"y":{"datum":0.9161,"type":"quantitative","axis":null},"y2":{"datum":0.8525}}},
   {"data":{"values":[{}]},"mark":{"type":"text","font":"Liberation Serif","fontWeight":"bold","fontSize":8.5,"align":"left","baseline":"top","lineHeight":10.6},"encoding":{"x":{"datum":61.0,"type":"quantitative","axis":null},"y":{"datum":0.910,"type":"quantitative","axis":null},"text":{"value":["\u00a0ALM","Point. Err.:","Ver. = –0.4°","Hor. = 0.0°"]}}}
  ],"resolve":{"axis":{"x":"independent","y":"independent"}}},

  {"width":187,"height":115,"data":{"name":"ssa"},"layer":[
   {"transform":[{"filter":{"field":"panel","equal":"bAR"}}],"mark":"line","encoding":{
     "x":{"field":"sza","type":"quantitative","title":null,"scale":{"domain":[10,78.75]},"axis":{"orient":"bottom","values":[15,30,45,60,75],"labels":false}},
     "y":{"field":"ssa","type":"quantitative","title":null,"scale":{"domain":[0.85,1]},"axis":{"orient":"left","values":[0.85,0.86,0.87,0.88,0.89,0.9,0.91,0.92,0.93,0.94,0.95,0.96,0.97,0.98,0.99,1],"labels":false,"tickSize":{"condition":{"test":"indexof([0.9,0.95,1], datum.value) >= 0","value":-4},"value":-2}}},
     "color":{"field":"wl","type":"nominal","scale":{"domain":["440 nm","670 nm","870 nm","1020 nm"],"range":["#0000ff","#00e000","#ffee00","#ff0000"]},"legend":null},
     "strokeDash":{"field":"tau","type":"nominal","scale":{"domain":["low","high"],"range":[[1,0],[5,3]]},"legend":null}}},
   {"transform":[{"filter":{"field":"panel","equal":"bAR"}}],"mark":"point","encoding":{
     "x":{"field":"sza","type":"quantitative","title":null,"scale":{"domain":[10,78.75]},"axis":{"orient":"top","values":[15,30,45,60,75],"labels":false}},
     "y":{"field":"ssa","type":"quantitative","title":null,"scale":{"domain":[0.85,1]},"axis":{"orient":"right","values":[0.85,0.86,0.87,0.88,0.89,0.9,0.91,0.92,0.93,0.94,0.95,0.96,0.97,0.98,0.99,1],"labels":false,"tickSize":{"condition":{"test":"indexof([0.9,0.95,1], datum.value) >= 0","value":-4},"value":-2}}},
     "color":{"field":"wl","type":"nominal","scale":{"domain":["440 nm","670 nm","870 nm","1020 nm"],"range":["#0000ff","#00e000","#ffee00","#ff0000"]},"legend":null}}},
   {"data":{"values":[{}]},"mark":{"type":"rect","fill":"#fff","stroke":"#333","strokeWidth":1.2},"encoding":{"x":{"datum":59.7,"type":"quantitative","axis":null},"x2":{"datum":78.6},"y":{"datum":0.9161,"type":"quantitative","axis":null},"y2":{"datum":0.8525}}},
   {"data":{"values":[{}]},"mark":{"type":"text","font":"Liberation Serif","fontWeight":"bold","fontSize":8.5,"align":"left","baseline":"top","lineHeight":10.6},"encoding":{"x":{"datum":61.6,"type":"quantitative","axis":null},"y":{"datum":0.910,"type":"quantitative","axis":null},"text":{"value":["\u00a0ALM","Point. Err.:","Ver. = 0.0°","Hor. = 0.4°"]}}}
  ],"resolve":{"axis":{"x":"independent","y":"independent"}}},

  {"width":190,"height":115,"data":{"name":"ssa"},"layer":[
   {"transform":[{"filter":{"field":"panel","equal":"bPL"}}],"mark":"line","encoding":{
     "x":{"field":"sza","type":"quantitative","title":null,"scale":{"domain":[10,80]},"axis":{"orient":"bottom","values":[15,30,45,60,75]}},
     "y":{"field":"ssa","type":"quantitative","title":null,"scale":{"domain":[0.85,1]},"axis":{"orient":"left","values":[0.85,0.86,0.87,0.88,0.89,0.9,0.91,0.92,0.93,0.94,0.95,0.96,0.97,0.98,0.99,1],"format":"~g","labelExpr":"indexof([0.9,0.95,1], datum.value) >= 0 ? datum.label : ''","tickSize":{"condition":{"test":"indexof([0.9,0.95,1], datum.value) >= 0","value":-4},"value":-2}}},
     "color":{"field":"wl","type":"nominal","scale":{"domain":["440 nm","670 nm","870 nm","1020 nm"],"range":["#0000ff","#00e000","#ffee00","#ff0000"]},"legend":null},
     "strokeDash":{"field":"tau","type":"nominal","scale":{"domain":["low","high"],"range":[[1,0],[5,3]]},"legend":null}}},
   {"transform":[{"filter":{"field":"panel","equal":"bPL"}}],"mark":"point","encoding":{
     "x":{"field":"sza","type":"quantitative","title":null,"scale":{"domain":[10,80]},"axis":{"orient":"top","values":[15,30,45,60,75],"labels":false}},
     "y":{"field":"ssa","type":"quantitative","title":null,"scale":{"domain":[0.85,1]},"axis":{"orient":"right","values":[0.85,0.86,0.87,0.88,0.89,0.9,0.91,0.92,0.93,0.94,0.95,0.96,0.97,0.98,0.99,1],"labels":false,"tickSize":{"condition":{"test":"indexof([0.9,0.95,1], datum.value) >= 0","value":-4},"value":-2}}},
     "color":{"field":"wl","type":"nominal","scale":{"domain":["440 nm","670 nm","870 nm","1020 nm"],"range":["#0000ff","#00e000","#ffee00","#ff0000"]},"legend":null}}},
   {"data":{"values":[{}]},"mark":{"type":"rect","fill":"#fff","stroke":"#333","strokeWidth":1.2},"encoding":{"x":{"datum":11.2,"type":"quantitative","axis":null},"x2":{"datum":30.8},"y":{"datum":0.9154,"type":"quantitative","axis":null},"y2":{"datum":0.8525}}},
   {"data":{"values":[{}]},"mark":{"type":"text","font":"Liberation Serif","fontWeight":"bold","fontSize":8.5,"align":"left","baseline":"top","lineHeight":11},"encoding":{"x":{"datum":13.7,"type":"quantitative","axis":null},"y":{"datum":0.9119,"type":"quantitative","axis":null},"text":{"value":["\u00a0PPL","Point. Err.:","Ver. = 0.4°","Hor. = 0.0°"]}}},
   {"data":{"values":[{}]},"mark":{"type":"rect","fill":"#fff","stroke":"#333","strokeWidth":1.2},"encoding":{"x":{"datum":32.35,"type":"quantitative","axis":null},"x2":{"datum":65.4},"y":{"datum":0.8949,"type":"quantitative","axis":null},"y2":{"datum":0.8775}}},
   {"data":{"values":[{}]},"mark":{"type":"rect","fill":"#fff","stroke":"#333","strokeWidth":1.2},"encoding":{"x":{"datum":32.35,"type":"quantitative","axis":null},"x2":{"datum":65.4},"y":{"datum":0.8732,"type":"quantitative","axis":null},"y2":{"datum":0.8545}}},
   {"data":{"values":[{}]},"mark":{"type":"rule","color":"#000","strokeWidth":1.5},"encoding":{"x":{"datum":33.4,"type":"quantitative","axis":null},"x2":{"datum":38.2},"y":{"datum":0.8863,"type":"quantitative","axis":null}}},
   {"data":{"values":[{}]},"mark":{"type":"rule","color":"#000","strokeWidth":1.5,"strokeDash":[4,3]},"encoding":{"x":{"datum":33.4,"type":"quantitative","axis":null},"x2":{"datum":38.2},"y":{"datum":0.8631,"type":"quantitative","axis":null}}},
   {"data":{"values":[{}]},"mark":{"type":"text","font":"Liberation Serif","fontWeight":"bold","fontSize":8.5,"align":"left","baseline":"middle"},"encoding":{"x":{"datum":39.3,"type":"quantitative","axis":null},"y":{"datum":0.8863,"type":"quantitative","axis":null},"text":{"value":"GFSC: τ₄₄₀ = 0.2"}}},
   {"data":{"values":[{}]},"mark":{"type":"text","font":"Liberation Serif","fontWeight":"bold","fontSize":8.5,"align":"left","baseline":"middle"},"encoding":{"x":{"datum":39.3,"type":"quantitative","axis":null},"y":{"datum":0.8631,"type":"quantitative","axis":null},"text":{"value":"GSFC: τ₄₄₀ = 0.5"}}}
  ],"resolve":{"axis":{"x":"independent","y":"independent"}}},

  {"width":190,"height":115,"data":{"name":"ssa"},"layer":[
   {"transform":[{"filter":{"field":"panel","equal":"bPM"}}],"mark":"line","encoding":{
     "x":{"field":"sza","type":"quantitative","title":"Solar Zenith Angle [°]","scale":{"domain":[10,80]},"axis":{"orient":"bottom","values":[15,30,45,60,75],"titleFontSize":14,"titlePadding":8.5}},
     "y":{"field":"ssa","type":"quantitative","title":null,"scale":{"domain":[0.85,1]},"axis":{"orient":"left","values":[0.85,0.86,0.87,0.88,0.89,0.9,0.91,0.92,0.93,0.94,0.95,0.96,0.97,0.98,0.99,1],"labels":false,"tickSize":{"condition":{"test":"indexof([0.9,0.95,1], datum.value) >= 0","value":-4},"value":-2}}},
     "color":{"field":"wl","type":"nominal","scale":{"domain":["440 nm","670 nm","870 nm","1020 nm"],"range":["#0000ff","#00e000","#ffee00","#ff0000"]},"legend":null},
     "strokeDash":{"field":"tau","type":"nominal","scale":{"domain":["low","high"],"range":[[1,0],[5,3]]},"legend":null}}},
   {"transform":[{"filter":{"field":"panel","equal":"bPM"}}],"mark":"point","encoding":{
     "x":{"field":"sza","type":"quantitative","title":null,"scale":{"domain":[10,80]},"axis":{"orient":"top","values":[15,30,45,60,75],"labels":false}},
     "y":{"field":"ssa","type":"quantitative","title":null,"scale":{"domain":[0.85,1]},"axis":{"orient":"right","values":[0.85,0.86,0.87,0.88,0.89,0.9,0.91,0.92,0.93,0.94,0.95,0.96,0.97,0.98,0.99,1],"labels":false,"tickSize":{"condition":{"test":"indexof([0.9,0.95,1], datum.value) >= 0","value":-4},"value":-2}}},
     "color":{"field":"wl","type":"nominal","scale":{"domain":["440 nm","670 nm","870 nm","1020 nm"],"range":["#0000ff","#00e000","#ffee00","#ff0000"]},"legend":null}}},
   {"data":{"values":[{}]},"mark":{"type":"rect","fill":"#fff","stroke":"#333","strokeWidth":1.2},"encoding":{"x":{"datum":11.7,"type":"quantitative","axis":null},"x2":{"datum":31.4},"y":{"datum":0.9154,"type":"quantitative","axis":null},"y2":{"datum":0.8525}}},
   {"data":{"values":[{}]},"mark":{"type":"text","font":"Liberation Serif","fontWeight":"bold","fontSize":8.5,"align":"left","baseline":"top","lineHeight":11},"encoding":{"x":{"datum":13.6,"type":"quantitative","axis":null},"y":{"datum":0.9119,"type":"quantitative","axis":null},"text":{"value":["\u00a0PPL","Point. Err.:","Ver. = –0.4°","Hor. = 0.0°"]}}}
  ],"resolve":{"axis":{"x":"independent","y":"independent"}}},

  {"width":187,"height":115,"data":{"name":"ssa"},"layer":[
   {"transform":[{"filter":{"field":"panel","equal":"bPR"}}],"mark":"line","encoding":{
     "x":{"field":"sza","type":"quantitative","title":null,"scale":{"domain":[10,78.75]},"axis":{"orient":"bottom","values":[15,30,45,60,75]}},
     "y":{"field":"ssa","type":"quantitative","title":null,"scale":{"domain":[0.85,1]},"axis":{"orient":"left","values":[0.85,0.86,0.87,0.88,0.89,0.9,0.91,0.92,0.93,0.94,0.95,0.96,0.97,0.98,0.99,1],"labels":false,"tickSize":{"condition":{"test":"indexof([0.9,0.95,1], datum.value) >= 0","value":-4},"value":-2}}},
     "color":{"field":"wl","type":"nominal","scale":{"domain":["440 nm","670 nm","870 nm","1020 nm"],"range":["#0000ff","#00e000","#ffee00","#ff0000"]},"legend":{"title":null,"orient":"bottom-right","offset":4,"padding":2,"rowPadding":-0.9,"labelFont":"Liberation Sans","labelFontSize":8.5,"labelOffset":14,"symbolOffset":6,"symbolType":"M-2.4,-0.19L2.4,-0.19L2.4,0.19L-2.4,0.19Z M0.65,0A0.65,0.65,0,1,1,-0.65,0A0.65,0.65,0,1,1,0.65,0Z","symbolSize":64,"symbolStrokeWidth":0.4,"strokeColor":"#222","fillColor":"#fff"}},
     "strokeDash":{"field":"tau","type":"nominal","scale":{"domain":["low","high"],"range":[[1,0],[5,3]]},"legend":null}}},
   {"transform":[{"filter":{"field":"panel","equal":"bPR"}}],"mark":"point","encoding":{
     "x":{"field":"sza","type":"quantitative","title":null,"scale":{"domain":[10,78.75]},"axis":{"orient":"top","values":[15,30,45,60,75],"labels":false}},
     "y":{"field":"ssa","type":"quantitative","title":null,"scale":{"domain":[0.85,1]},"axis":{"orient":"right","values":[0.85,0.86,0.87,0.88,0.89,0.9,0.91,0.92,0.93,0.94,0.95,0.96,0.97,0.98,0.99,1],"labels":false,"tickSize":{"condition":{"test":"indexof([0.9,0.95,1], datum.value) >= 0","value":-4},"value":-2}}},
     "color":{"field":"wl","type":"nominal","scale":{"domain":["440 nm","670 nm","870 nm","1020 nm"],"range":["#0000ff","#00e000","#ffee00","#ff0000"]},"legend":{"title":null,"orient":"bottom-right","offset":4,"padding":2,"rowPadding":-0.9,"labelFont":"Liberation Sans","labelFontSize":8.5,"labelOffset":14,"symbolOffset":6,"symbolType":"M-2.4,-0.19L2.4,-0.19L2.4,0.19L-2.4,0.19Z M0.65,0A0.65,0.65,0,1,1,-0.65,0A0.65,0.65,0,1,1,0.65,0Z","symbolSize":64,"symbolStrokeWidth":0.4,"strokeColor":"#222","fillColor":"#fff"}}}},
   {"data":{"values":[{}]},"mark":{"type":"rect","fill":"#fff","stroke":"#333","strokeWidth":1.2},"encoding":{"x":{"datum":12.5,"type":"quantitative","axis":null},"x2":{"datum":31.2},"y":{"datum":0.9154,"type":"quantitative","axis":null},"y2":{"datum":0.8525}}},
   {"data":{"values":[{}]},"mark":{"type":"text","font":"Liberation Serif","fontWeight":"bold","fontSize":8.5,"align":"left","baseline":"top","lineHeight":11},"encoding":{"x":{"datum":13.9,"type":"quantitative","axis":null},"y":{"datum":0.9119,"type":"quantitative","axis":null},"text":{"value":["\u00a0PPL","Point. Err.:","Ver. = 0.0°","Hor. = 0.4°"]}}}
  ],"resolve":{"axis":{"x":"independent","y":"independent"}}}
 ]},

{"columns":3,"spacing":{"row":5.5,"column":5},"bounds":"flush",
 "resolve":{"scale":{"color":"independent","strokeDash":"independent"},"legend":{"color":"independent","strokeDash":"independent"}},
 "concat":[
  {"width":190,"height":115,"data":{"name":"ssa"},"layer":[
   {"transform":[{"filter":{"field":"panel","equal":"cAL"}}],"mark":"line","encoding":{
     "x":{"field":"sza","type":"quantitative","title":null,"scale":{"domain":[10,80]},"axis":{"orient":"bottom","values":[15,30,45,60,75],"labels":false}},
     "y":{"field":"ssa","type":"quantitative","title":"Single Scattering Albedo","scale":{"domain":[0.85,1]},"axis":{"orient":"left","values":[0.85,0.86,0.87,0.88,0.89,0.9,0.91,0.92,0.93,0.94,0.95,0.96,0.97,0.98,0.99,1],"format":"~g","labelExpr":"indexof([0.9,0.95,1], datum.value) >= 0 ? datum.label : ''","tickSize":{"condition":{"test":"indexof([0.9,0.95,1], datum.value) >= 0","value":-4},"value":-2},"titleX":-35,"titleY":117.8,"titleAngle":270,"titleBaseline":"middle","titleAlign":"center","titleFontSize":12.5}},
     "color":{"field":"wl","type":"nominal","scale":{"domain":["440 nm","670 nm","870 nm","1020 nm"],"range":["#0000ff","#00e000","#ffee00","#ff0000"]},"legend":null},
     "strokeDash":{"field":"tau","type":"nominal","scale":{"domain":["low","high"],"range":[[1,0],[5,3]]},"legend":null}}},
   {"transform":[{"filter":{"field":"panel","equal":"cAL"}}],"mark":"point","encoding":{
     "x":{"field":"sza","type":"quantitative","title":null,"scale":{"domain":[10,80]},"axis":{"orient":"top","values":[15,30,45,60,75],"labels":false}},
     "y":{"field":"ssa","type":"quantitative","title":null,"scale":{"domain":[0.85,1]},"axis":{"orient":"right","values":[0.85,0.86,0.87,0.88,0.89,0.9,0.91,0.92,0.93,0.94,0.95,0.96,0.97,0.98,0.99,1],"labels":false,"tickSize":{"condition":{"test":"indexof([0.9,0.95,1], datum.value) >= 0","value":-4},"value":-2}}},
     "color":{"field":"wl","type":"nominal","scale":{"domain":["440 nm","670 nm","870 nm","1020 nm"],"range":["#0000ff","#00e000","#ffee00","#ff0000"]},"legend":null}}},
   {"data":{"values":[{}]},"mark":{"type":"rect","fill":"#fff","stroke":"#333","strokeWidth":1.2},"encoding":{"x":{"datum":58.8,"type":"quantitative","axis":null},"x2":{"datum":79.0},"y":{"datum":0.9138,"type":"quantitative","axis":null},"y2":{"datum":0.8525}}},
   {"data":{"values":[{}]},"mark":{"type":"text","font":"Liberation Serif","fontWeight":"bold","fontSize":8.5,"align":"left","baseline":"top","lineHeight":11},"encoding":{"x":{"datum":61.0,"type":"quantitative","axis":null},"y":{"datum":0.910,"type":"quantitative","axis":null},"text":{"value":["\u00a0\u00a0ALM","Point. Err.:","Ver. = 0.4°","Hor. = 0.0°"]}}}
  ],"resolve":{"axis":{"x":"independent","y":"independent"}}},

  {"width":190,"height":115,"data":{"name":"ssa"},"title":{"text":"c) Solar Village - Desert Dust"},"layer":[
   {"transform":[{"filter":{"field":"panel","equal":"cAM"}}],"mark":"line","encoding":{
     "x":{"field":"sza","type":"quantitative","title":null,"scale":{"domain":[10,80]},"axis":{"orient":"bottom","values":[15,30,45,60,75],"labels":false}},
     "y":{"field":"ssa","type":"quantitative","title":null,"scale":{"domain":[0.85,1]},"axis":{"orient":"left","values":[0.85,0.86,0.87,0.88,0.89,0.9,0.91,0.92,0.93,0.94,0.95,0.96,0.97,0.98,0.99,1],"labels":false,"tickSize":{"condition":{"test":"indexof([0.9,0.95,1], datum.value) >= 0","value":-4},"value":-2}}},
     "color":{"field":"wl","type":"nominal","scale":{"domain":["440 nm","670 nm","870 nm","1020 nm"],"range":["#0000ff","#00e000","#ffee00","#ff0000"]},"legend":null},
     "strokeDash":{"field":"tau","type":"nominal","scale":{"domain":["low","high"],"range":[[1,0],[5,3]]},"legend":null}}},
   {"transform":[{"filter":{"field":"panel","equal":"cAM"}}],"mark":"point","encoding":{
     "x":{"field":"sza","type":"quantitative","title":null,"scale":{"domain":[10,80]},"axis":{"orient":"top","values":[15,30,45,60,75],"labels":false}},
     "y":{"field":"ssa","type":"quantitative","title":null,"scale":{"domain":[0.85,1]},"axis":{"orient":"right","values":[0.85,0.86,0.87,0.88,0.89,0.9,0.91,0.92,0.93,0.94,0.95,0.96,0.97,0.98,0.99,1],"labels":false,"tickSize":{"condition":{"test":"indexof([0.9,0.95,1], datum.value) >= 0","value":-4},"value":-2}}},
     "color":{"field":"wl","type":"nominal","scale":{"domain":["440 nm","670 nm","870 nm","1020 nm"],"range":["#0000ff","#00e000","#ffee00","#ff0000"]},"legend":null}}},
   {"data":{"values":[{}]},"mark":{"type":"rect","fill":"#fff","stroke":"#333","strokeWidth":1.2},"encoding":{"x":{"datum":59.2,"type":"quantitative","axis":null},"x2":{"datum":79.4},"y":{"datum":0.9138,"type":"quantitative","axis":null},"y2":{"datum":0.8525}}},
   {"data":{"values":[{}]},"mark":{"type":"text","font":"Liberation Serif","fontWeight":"bold","fontSize":8.5,"align":"left","baseline":"top","lineHeight":11},"encoding":{"x":{"datum":61.3,"type":"quantitative","axis":null},"y":{"datum":0.910,"type":"quantitative","axis":null},"text":{"value":["\u00a0\u00a0ALM","Point. Err.:","Ver. = –0.4°","Hor. = 0.0°"]}}}
  ],"resolve":{"axis":{"x":"independent","y":"independent"}}},

  {"width":187,"height":115,"data":{"name":"ssa"},"layer":[
   {"transform":[{"filter":{"field":"panel","equal":"cAR"}}],"mark":"line","encoding":{
     "x":{"field":"sza","type":"quantitative","title":null,"scale":{"domain":[10,78.75]},"axis":{"orient":"bottom","values":[15,30,45,60,75],"labels":false}},
     "y":{"field":"ssa","type":"quantitative","title":null,"scale":{"domain":[0.85,1]},"axis":{"orient":"left","values":[0.85,0.86,0.87,0.88,0.89,0.9,0.91,0.92,0.93,0.94,0.95,0.96,0.97,0.98,0.99,1],"labels":false,"tickSize":{"condition":{"test":"indexof([0.9,0.95,1], datum.value) >= 0","value":-4},"value":-2}}},
     "color":{"field":"wl","type":"nominal","scale":{"domain":["440 nm","670 nm","870 nm","1020 nm"],"range":["#0000ff","#00e000","#ffee00","#ff0000"]},"legend":null},
     "strokeDash":{"field":"tau","type":"nominal","scale":{"domain":["low","high"],"range":[[1,0],[5,3]]},"legend":null}}},
   {"transform":[{"filter":{"field":"panel","equal":"cAR"}}],"mark":"point","encoding":{
     "x":{"field":"sza","type":"quantitative","title":null,"scale":{"domain":[10,78.75]},"axis":{"orient":"top","values":[15,30,45,60,75],"labels":false}},
     "y":{"field":"ssa","type":"quantitative","title":null,"scale":{"domain":[0.85,1]},"axis":{"orient":"right","values":[0.85,0.86,0.87,0.88,0.89,0.9,0.91,0.92,0.93,0.94,0.95,0.96,0.97,0.98,0.99,1],"labels":false,"tickSize":{"condition":{"test":"indexof([0.9,0.95,1], datum.value) >= 0","value":-4},"value":-2}}},
     "color":{"field":"wl","type":"nominal","scale":{"domain":["440 nm","670 nm","870 nm","1020 nm"],"range":["#0000ff","#00e000","#ffee00","#ff0000"]},"legend":null}}},
   {"data":{"values":[{}]},"mark":{"type":"rect","fill":"#fff","stroke":"#333","strokeWidth":1.2},"encoding":{"x":{"datum":59.7,"type":"quantitative","axis":null},"x2":{"datum":78.6},"y":{"datum":0.9138,"type":"quantitative","axis":null},"y2":{"datum":0.8525}}},
   {"data":{"values":[{}]},"mark":{"type":"text","font":"Liberation Serif","fontWeight":"bold","fontSize":8.5,"align":"left","baseline":"top","lineHeight":11},"encoding":{"x":{"datum":61.6,"type":"quantitative","axis":null},"y":{"datum":0.910,"type":"quantitative","axis":null},"text":{"value":["\u00a0\u00a0ALM","Point. Err.:","Ver. = 0.0°","Hor. = 0.4°"]}}}
  ],"resolve":{"axis":{"x":"independent","y":"independent"}}},

  {"width":190,"height":115,"data":{"name":"ssa"},"layer":[
   {"transform":[{"filter":{"field":"panel","equal":"cPL"}}],"mark":"line","encoding":{
     "x":{"field":"sza","type":"quantitative","title":null,"scale":{"domain":[10,80]},"axis":{"orient":"bottom","values":[15,30,45,60,75]}},
     "y":{"field":"ssa","type":"quantitative","title":null,"scale":{"domain":[0.85,1]},"axis":{"orient":"left","values":[0.85,0.86,0.87,0.88,0.89,0.9,0.91,0.92,0.93,0.94,0.95,0.96,0.97,0.98,0.99,1],"format":"~g","labelExpr":"indexof([0.9,0.95,1], datum.value) >= 0 ? datum.label : ''","tickSize":{"condition":{"test":"indexof([0.9,0.95,1], datum.value) >= 0","value":-4},"value":-2}}},
     "color":{"field":"wl","type":"nominal","scale":{"domain":["440 nm","670 nm","870 nm","1020 nm"],"range":["#0000ff","#00e000","#ffee00","#ff0000"]},"legend":null},
     "strokeDash":{"field":"tau","type":"nominal","scale":{"domain":["low","high"],"range":[[1,0],[5,3]]},"legend":null}}},
   {"transform":[{"filter":{"field":"panel","equal":"cPL"}}],"mark":"point","encoding":{
     "x":{"field":"sza","type":"quantitative","title":null,"scale":{"domain":[10,80]},"axis":{"orient":"top","values":[15,30,45,60,75],"labels":false}},
     "y":{"field":"ssa","type":"quantitative","title":null,"scale":{"domain":[0.85,1]},"axis":{"orient":"right","values":[0.85,0.86,0.87,0.88,0.89,0.9,0.91,0.92,0.93,0.94,0.95,0.96,0.97,0.98,0.99,1],"labels":false,"tickSize":{"condition":{"test":"indexof([0.9,0.95,1], datum.value) >= 0","value":-4},"value":-2}}},
     "color":{"field":"wl","type":"nominal","scale":{"domain":["440 nm","670 nm","870 nm","1020 nm"],"range":["#0000ff","#00e000","#ffee00","#ff0000"]},"legend":null}}},
   {"data":{"values":[{}]},"mark":{"type":"rect","fill":"#fff","stroke":"#333","strokeWidth":1.2},"encoding":{"x":{"datum":58.8,"type":"quantitative","axis":null},"x2":{"datum":79.0},"y":{"datum":0.9134,"type":"quantitative","axis":null},"y2":{"datum":0.8526}}},
   {"data":{"values":[{}]},"mark":{"type":"text","font":"Liberation Serif","fontWeight":"bold","fontSize":8.5,"align":"left","baseline":"top","lineHeight":10.8},"encoding":{"x":{"datum":61.0,"type":"quantitative","axis":null},"y":{"datum":0.9094,"type":"quantitative","axis":null},"text":{"value":["\u00a0\u00a0PPL","Point. Err.:","Ver. = 0.4°","Hor. = 0.0°"]}}},
   {"data":{"values":[{}]},"mark":{"type":"rect","fill":"#fff","stroke":"#333","strokeWidth":1.2},"encoding":{"x":{"datum":24.8,"type":"quantitative","axis":null},"x2":{"datum":58.3},"y":{"datum":0.8946,"type":"quantitative","axis":null},"y2":{"datum":0.8766}}},
   {"data":{"values":[{}]},"mark":{"type":"rect","fill":"#fff","stroke":"#333","strokeWidth":1.2},"encoding":{"x":{"datum":24.8,"type":"quantitative","axis":null},"x2":{"datum":58.3},"y":{"datum":0.8736,"type":"quantitative","axis":null},"y2":{"datum":0.8545}}},
   {"data":{"values":[{}]},"mark":{"type":"rule","color":"#000","strokeWidth":1.5},"encoding":{"x":{"datum":26.0,"type":"quantitative","axis":null},"x2":{"datum":30.4},"y":{"datum":0.8863,"type":"quantitative","axis":null}}},
   {"data":{"values":[{}]},"mark":{"type":"rule","color":"#000","strokeWidth":1.5,"strokeDash":[4,3]},"encoding":{"x":{"datum":26.0,"type":"quantitative","axis":null},"x2":{"datum":30.4},"y":{"datum":0.8635,"type":"quantitative","axis":null}}},
   {"data":{"values":[{}]},"mark":{"type":"text","font":"Liberation Serif","fontWeight":"bold","fontSize":8.5,"align":"left","baseline":"middle"},"encoding":{"x":{"datum":31.6,"type":"quantitative","axis":null},"y":{"datum":0.8863,"type":"quantitative","axis":null},"text":{"value":"Sol.V: τ₁₀₂₀ = 0.3"}}},
   {"data":{"values":[{}]},"mark":{"type":"text","font":"Liberation Serif","fontWeight":"bold","fontSize":8.5,"align":"left","baseline":"middle"},"encoding":{"x":{"datum":31.6,"type":"quantitative","axis":null},"y":{"datum":0.8635,"type":"quantitative","axis":null},"text":{"value":"Sol.V: τ₁₀₂₀ = 0.5"}}}
  ],"resolve":{"axis":{"x":"independent","y":"independent"}}},

  {"width":190,"height":115,"data":{"name":"ssa"},"layer":[
   {"transform":[{"filter":{"field":"panel","equal":"cPM"}}],"mark":"line","encoding":{
     "x":{"field":"sza","type":"quantitative","title":"Solar Zenith Angle [°]","scale":{"domain":[10,80]},"axis":{"orient":"bottom","values":[15,30,45,60,75],"titleFontSize":14,"titlePadding":4.5}},
     "y":{"field":"ssa","type":"quantitative","title":null,"scale":{"domain":[0.85,1]},"axis":{"orient":"left","values":[0.85,0.86,0.87,0.88,0.89,0.9,0.91,0.92,0.93,0.94,0.95,0.96,0.97,0.98,0.99,1],"labels":false,"tickSize":{"condition":{"test":"indexof([0.9,0.95,1], datum.value) >= 0","value":-4},"value":-2}}},
     "color":{"field":"wl","type":"nominal","scale":{"domain":["440 nm","670 nm","870 nm","1020 nm"],"range":["#0000ff","#00e000","#ffee00","#ff0000"]},"legend":null},
     "strokeDash":{"field":"tau","type":"nominal","scale":{"domain":["low","high"],"range":[[1,0],[5,3]]},"legend":null}}},
   {"transform":[{"filter":{"field":"panel","equal":"cPM"}}],"mark":"point","encoding":{
     "x":{"field":"sza","type":"quantitative","title":null,"scale":{"domain":[10,80]},"axis":{"orient":"top","values":[15,30,45,60,75],"labels":false}},
     "y":{"field":"ssa","type":"quantitative","title":null,"scale":{"domain":[0.85,1]},"axis":{"orient":"right","values":[0.85,0.86,0.87,0.88,0.89,0.9,0.91,0.92,0.93,0.94,0.95,0.96,0.97,0.98,0.99,1],"labels":false,"tickSize":{"condition":{"test":"indexof([0.9,0.95,1], datum.value) >= 0","value":-4},"value":-2}}},
     "color":{"field":"wl","type":"nominal","scale":{"domain":["440 nm","670 nm","870 nm","1020 nm"],"range":["#0000ff","#00e000","#ffee00","#ff0000"]},"legend":null}}},
   {"data":{"values":[{}]},"mark":{"type":"rect","fill":"#fff","stroke":"#333","strokeWidth":1.2},"encoding":{"x":{"datum":59.2,"type":"quantitative","axis":null},"x2":{"datum":79.4},"y":{"datum":0.9134,"type":"quantitative","axis":null},"y2":{"datum":0.8526}}},
   {"data":{"values":[{}]},"mark":{"type":"text","font":"Liberation Serif","fontWeight":"bold","fontSize":8.5,"align":"left","baseline":"top","lineHeight":10.8},"encoding":{"x":{"datum":61.3,"type":"quantitative","axis":null},"y":{"datum":0.9094,"type":"quantitative","axis":null},"text":{"value":["\u00a0\u00a0PPL","Point. Err.:","Ver. = –0.4°","Hor. = 0.0°"]}}}
  ],"resolve":{"axis":{"x":"independent","y":"independent"}}},

  {"width":187,"height":115,"data":{"name":"ssa"},"layer":[
   {"transform":[{"filter":{"field":"panel","equal":"cPR"}}],"mark":"line","encoding":{
     "x":{"field":"sza","type":"quantitative","title":null,"scale":{"domain":[10,78.75]},"axis":{"orient":"bottom","values":[15,30,45,60,75]}},
     "y":{"field":"ssa","type":"quantitative","title":null,"scale":{"domain":[0.85,1]},"axis":{"orient":"left","values":[0.85,0.86,0.87,0.88,0.89,0.9,0.91,0.92,0.93,0.94,0.95,0.96,0.97,0.98,0.99,1],"labels":false,"tickSize":{"condition":{"test":"indexof([0.9,0.95,1], datum.value) >= 0","value":-4},"value":-2}}},
     "color":{"field":"wl","type":"nominal","scale":{"domain":["440 nm","670 nm","870 nm","1020 nm"],"range":["#0000ff","#00e000","#ffee00","#ff0000"]},"legend":{"title":null,"orient":"bottom-left","offset":4,"padding":2,"rowPadding":-0.4,"labelFont":"Liberation Sans","labelFontSize":8.5,"labelOffset":14,"symbolOffset":6,"symbolType":"M-2.4,-0.19L2.4,-0.19L2.4,0.19L-2.4,0.19Z M0.65,0A0.65,0.65,0,1,1,-0.65,0A0.65,0.65,0,1,1,0.65,0Z","symbolSize":64,"symbolStrokeWidth":0.4,"strokeColor":"#222","fillColor":"#fff"}},
     "strokeDash":{"field":"tau","type":"nominal","scale":{"domain":["low","high"],"range":[[1,0],[5,3]]},"legend":null}}},
   {"transform":[{"filter":{"field":"panel","equal":"cPR"}}],"mark":"point","encoding":{
     "x":{"field":"sza","type":"quantitative","title":null,"scale":{"domain":[10,78.75]},"axis":{"orient":"top","values":[15,30,45,60,75],"labels":false}},
     "y":{"field":"ssa","type":"quantitative","title":null,"scale":{"domain":[0.85,1]},"axis":{"orient":"right","values":[0.85,0.86,0.87,0.88,0.89,0.9,0.91,0.92,0.93,0.94,0.95,0.96,0.97,0.98,0.99,1],"labels":false,"tickSize":{"condition":{"test":"indexof([0.9,0.95,1], datum.value) >= 0","value":-4},"value":-2}}},
     "color":{"field":"wl","type":"nominal","scale":{"domain":["440 nm","670 nm","870 nm","1020 nm"],"range":["#0000ff","#00e000","#ffee00","#ff0000"]},"legend":{"title":null,"orient":"bottom-left","offset":4,"padding":2,"rowPadding":-0.4,"labelFont":"Liberation Sans","labelFontSize":8.5,"labelOffset":14,"symbolOffset":6,"symbolType":"M-2.4,-0.19L2.4,-0.19L2.4,0.19L-2.4,0.19Z M0.65,0A0.65,0.65,0,1,1,-0.65,0A0.65,0.65,0,1,1,0.65,0Z","symbolSize":64,"symbolStrokeWidth":0.4,"strokeColor":"#222","fillColor":"#fff"}}}},
   {"data":{"values":[{}]},"mark":{"type":"rect","fill":"#fff","stroke":"#333","strokeWidth":1.2},"encoding":{"x":{"datum":59.5,"type":"quantitative","axis":null},"x2":{"datum":78.6},"y":{"datum":0.9134,"type":"quantitative","axis":null},"y2":{"datum":0.8526}}},
   {"data":{"values":[{}]},"mark":{"type":"text","font":"Liberation Serif","fontWeight":"bold","fontSize":8.5,"align":"left","baseline":"top","lineHeight":10.8},"encoding":{"x":{"datum":61.6,"type":"quantitative","axis":null},"y":{"datum":0.9094,"type":"quantitative","axis":null},"text":{"value":["\u00a0\u00a0PPL","Point. Err.:","Ver. = 0.0°","Hor. = 0.4°"]}}}
  ],"resolve":{"axis":{"x":"independent","y":"independent"}}}
 ]}
 ]}
]
}
